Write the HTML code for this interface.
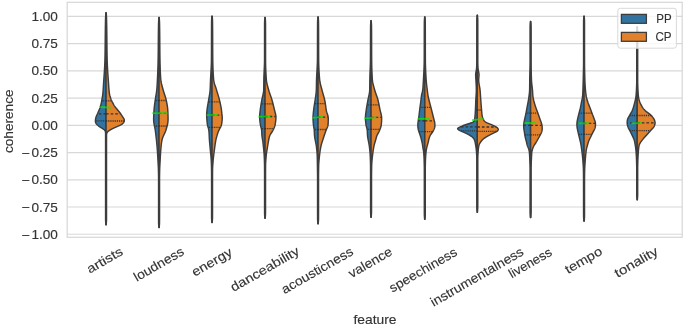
<!DOCTYPE html>
<html><head><meta charset="utf-8"><style>
html,body{margin:0;padding:0;background:#fff;width:685px;height:328px;overflow:hidden;}
svg{display:block;font-family:"Liberation Sans",sans-serif;-webkit-font-smoothing:antialiased;}
svg{will-change:transform;}
#w{}
text{fill:#333333;stroke:#333333;stroke-width:0.14px;}
</style></head><body><div id="w"><svg width="685" height="328" viewBox="0 0 685 328" font-family="Liberation Sans, sans-serif" font-size="12.8" fill="#333333"><rect x="67.2" y="2.3" width="615.0" height="235.0" fill="#fff" stroke="#d6d6d6" stroke-width="1.2"/><line x1="67.2" y1="234.25" x2="682.2" y2="234.25" stroke="#d8d8d8" stroke-width="1.2"/><line x1="67.2" y1="207.01" x2="682.2" y2="207.01" stroke="#d8d8d8" stroke-width="1.2"/><line x1="67.2" y1="179.78" x2="682.2" y2="179.78" stroke="#d8d8d8" stroke-width="1.2"/><line x1="67.2" y1="152.54" x2="682.2" y2="152.54" stroke="#d8d8d8" stroke-width="1.2"/><line x1="67.2" y1="125.30" x2="682.2" y2="125.30" stroke="#d8d8d8" stroke-width="1.2"/><line x1="67.2" y1="98.06" x2="682.2" y2="98.06" stroke="#d8d8d8" stroke-width="1.2"/><line x1="67.2" y1="70.82" x2="682.2" y2="70.82" stroke="#d8d8d8" stroke-width="1.2"/><line x1="67.2" y1="43.59" x2="682.2" y2="43.59" stroke="#d8d8d8" stroke-width="1.2"/><line x1="67.2" y1="16.35" x2="682.2" y2="16.35" stroke="#d8d8d8" stroke-width="1.2"/><path d="M106.05,12.8 L105.87,12.8 L105.85,13.3 L105.82,13.8 L105.79,14.3 L105.75,14.8 L105.72,15.3 L105.68,15.8 L105.65,16.3 L105.63,16.8 L105.6,17.3 L105.58,17.8 L105.56,18.3 L105.55,18.8 L105.53,19.3 L105.52,19.8 L105.51,20.3 L105.49,20.8 L105.48,21.3 L105.47,21.8 L105.46,22.3 L105.45,22.8 L105.44,23.3 L105.43,23.8 L105.42,24.3 L105.41,24.8 L105.4,25.3 L105.39,25.8 L105.38,26.3 L105.37,26.8 L105.36,27.3 L105.36,27.8 L105.35,28.3 L105.34,28.8 L105.33,29.3 L105.33,29.8 L105.32,30.3 L105.31,30.8 L105.31,31.3 L105.3,31.8 L105.3,32.3 L105.29,32.8 L105.28,33.3 L105.28,33.8 L105.27,34.3 L105.27,34.8 L105.26,35.3 L105.26,35.8 L105.25,36.3 L105.25,36.8 L105.24,37.3 L105.24,37.8 L105.23,38.3 L105.23,38.8 L105.23,39.3 L105.22,39.8 L105.22,40.3 L105.21,40.8 L105.21,41.3 L105.2,41.8 L105.2,42.3 L105.19,42.8 L105.19,43.3 L105.18,43.8 L105.18,44.3 L105.17,44.8 L105.17,45.3 L105.16,45.8 L105.16,46.3 L105.15,46.8 L105.15,47.3 L105.14,47.8 L105.13,48.3 L105.13,48.8 L105.12,49.3 L105.12,49.8 L105.11,50.3 L105.1,50.8 L105.09,51.3 L105.09,51.8 L105.08,52.3 L105.07,52.8 L105.06,53.3 L105.06,53.8 L105.05,54.3 L105.04,54.8 L105.03,55.3 L105.02,55.8 L105.01,56.3 L105,56.8 L104.99,57.3 L104.98,57.8 L104.97,58.3 L104.95,58.8 L104.94,59.3 L104.93,59.8 L104.92,60.3 L104.9,60.8 L104.89,61.3 L104.87,61.8 L104.85,62.3 L104.83,62.8 L104.81,63.3 L104.79,63.8 L104.77,64.3 L104.75,64.8 L104.72,65.3 L104.7,65.8 L104.68,66.3 L104.65,66.8 L104.62,67.3 L104.59,67.8 L104.57,68.3 L104.54,68.8 L104.51,69.3 L104.48,69.8 L104.45,70.3 L104.42,70.8 L104.39,71.3 L104.35,71.8 L104.32,72.3 L104.29,72.8 L104.25,73.3 L104.22,73.8 L104.19,74.3 L104.15,74.8 L104.12,75.3 L104.08,75.8 L104.05,76.3 L104.02,76.8 L103.98,77.3 L103.95,77.8 L103.91,78.3 L103.88,78.8 L103.84,79.3 L103.81,79.8 L103.77,80.3 L103.74,80.8 L103.7,81.3 L103.67,81.8 L103.64,82.3 L103.6,82.8 L103.57,83.3 L103.54,83.8 L103.51,84.3 L103.48,84.8 L103.45,85.3 L103.41,85.8 L103.39,86.3 L103.36,86.8 L103.33,87.3 L103.3,87.8 L103.26,88.3 L103.23,88.8 L103.2,89.3 L103.17,89.8 L103.13,90.3 L103.1,90.8 L103.06,91.3 L103.02,91.8 L102.98,92.3 L102.93,92.8 L102.89,93.3 L102.83,93.8 L102.78,94.3 L102.71,94.8 L102.64,95.3 L102.57,95.8 L102.49,96.3 L102.4,96.8 L102.32,97.3 L102.23,97.8 L102.14,98.3 L102.06,98.8 L101.97,99.3 L101.88,99.8 L101.8,100.3 L101.71,100.8 L101.61,101.3 L101.52,101.8 L101.42,102.3 L101.32,102.8 L101.21,103.3 L101.1,103.8 L100.99,104.3 L100.87,104.8 L100.74,105.3 L100.61,105.8 L100.47,106.3 L100.32,106.8 L100.17,107.3 L100,107.8 L99.81,108.3 L99.62,108.8 L99.41,109.3 L99.2,109.8 L98.99,110.3 L98.77,110.8 L98.56,111.3 L98.35,111.8 L98.14,112.3 L97.92,112.8 L97.71,113.3 L97.48,113.8 L97.25,114.3 L97.01,114.8 L96.77,115.3 L96.54,115.8 L96.33,116.3 L96.14,116.8 L95.98,117.3 L95.84,117.8 L95.72,118.3 L95.61,118.8 L95.52,119.3 L95.46,119.8 L95.41,120.3 L95.4,120.8 L95.41,121.3 L95.47,121.8 L95.57,122.3 L95.73,122.8 L95.97,123.3 L96.29,123.8 L96.7,124.3 L97.19,124.8 L97.75,125.3 L98.38,125.8 L99.07,126.3 L99.81,126.8 L100.59,127.3 L101.41,127.8 L102.23,128.3 L103.01,128.8 L103.71,129.3 L104.29,129.8 L104.75,130.3 L105.08,130.8 L105.31,131.3 L105.44,131.8 L105.52,132.3 L105.55,132.8 L105.57,133.3 L105.57,133.8 L105.57,134.3 L105.57,134.8 L105.57,135.3 L105.58,135.8 L105.58,136.3 L105.58,136.8 L105.58,137.3 L105.58,137.8 L105.58,138.3 L105.58,138.8 L105.58,139.3 L105.58,139.8 L105.58,140.3 L105.58,140.8 L105.58,141.3 L105.58,141.8 L105.58,142.3 L105.58,142.8 L105.58,143.3 L105.58,143.8 L105.58,144.3 L105.58,144.8 L105.58,145.3 L105.58,145.8 L105.58,146.3 L105.58,146.8 L105.58,147.3 L105.58,147.8 L105.58,148.3 L105.58,148.8 L105.58,149.3 L105.58,149.8 L105.58,150.3 L105.58,150.8 L105.58,151.3 L105.58,151.8 L105.58,152.3 L105.58,152.8 L105.58,153.3 L105.58,153.8 L105.58,154.3 L105.58,154.8 L105.58,155.3 L105.58,155.8 L105.58,156.3 L105.58,156.8 L105.58,157.3 L105.58,157.8 L105.58,158.3 L105.58,158.8 L105.58,159.3 L105.58,159.8 L105.58,160.3 L105.58,160.8 L105.58,161.3 L105.58,161.8 L105.58,162.3 L105.58,162.8 L105.58,163.3 L105.58,163.8 L105.58,164.3 L105.58,164.8 L105.58,165.3 L105.58,165.8 L105.58,166.3 L105.58,166.8 L105.58,167.3 L105.58,167.8 L105.58,168.3 L105.58,168.8 L105.58,169.3 L105.58,169.8 L105.58,170.3 L105.58,170.8 L105.58,171.3 L105.58,171.8 L105.58,172.3 L105.58,172.8 L105.58,173.3 L105.58,173.8 L105.58,174.3 L105.58,174.8 L105.58,175.3 L105.58,175.8 L105.58,176.3 L105.58,176.8 L105.58,177.3 L105.58,177.8 L105.58,178.3 L105.58,178.8 L105.58,179.3 L105.58,179.8 L105.58,180.3 L105.58,180.8 L105.58,181.3 L105.58,181.8 L105.58,182.3 L105.58,182.8 L105.58,183.3 L105.58,183.8 L105.58,184.3 L105.58,184.8 L105.58,185.3 L105.58,185.8 L105.58,186.3 L105.58,186.8 L105.58,187.3 L105.58,187.8 L105.58,188.3 L105.58,188.8 L105.58,189.3 L105.58,189.8 L105.58,190.3 L105.58,190.8 L105.58,191.3 L105.58,191.8 L105.58,192.3 L105.58,192.8 L105.58,193.3 L105.58,193.8 L105.58,194.3 L105.58,194.8 L105.58,195.3 L105.58,195.8 L105.58,196.3 L105.58,196.8 L105.58,197.3 L105.58,197.8 L105.58,198.3 L105.58,198.8 L105.58,199.3 L105.58,199.8 L105.58,200.3 L105.58,200.8 L105.58,201.3 L105.58,201.8 L105.58,202.3 L105.58,202.8 L105.58,203.3 L105.58,203.8 L105.58,204.3 L105.58,204.8 L105.58,205.3 L105.58,205.8 L105.58,206.3 L105.58,206.8 L105.58,207.3 L105.58,207.8 L105.58,208.3 L105.58,208.8 L105.58,209.3 L105.58,209.8 L105.58,210.3 L105.58,210.8 L105.58,211.3 L105.58,211.8 L105.58,212.3 L105.58,212.8 L105.58,213.3 L105.58,213.8 L105.58,214.3 L105.58,214.8 L105.58,215.3 L105.58,215.8 L105.58,216.3 L105.58,216.8 L105.58,217.3 L105.58,217.8 L105.58,218.3 L105.58,218.8 L105.58,219.3 L105.59,219.8 L105.6,220.3 L105.62,220.8 L105.64,221.3 L105.67,221.8 L105.71,222.3 L105.75,222.8 L105.78,223.3 L105.82,223.8 L105.85,224.3 L105.87,224.7 L106.05,224.7Z" fill="#3274a1" stroke="#3d3d3d" stroke-width="1.45" stroke-linejoin="round"/><path d="M106.05,12.8 L106.23,12.8 L106.25,13.3 L106.28,13.8 L106.31,14.3 L106.35,14.8 L106.38,15.3 L106.42,15.8 L106.45,16.3 L106.47,16.8 L106.5,17.3 L106.52,17.8 L106.54,18.3 L106.55,18.8 L106.57,19.3 L106.58,19.8 L106.59,20.3 L106.61,20.8 L106.62,21.3 L106.63,21.8 L106.64,22.3 L106.65,22.8 L106.66,23.3 L106.67,23.8 L106.68,24.3 L106.69,24.8 L106.7,25.3 L106.71,25.8 L106.72,26.3 L106.73,26.8 L106.74,27.3 L106.74,27.8 L106.75,28.3 L106.76,28.8 L106.77,29.3 L106.77,29.8 L106.78,30.3 L106.79,30.8 L106.79,31.3 L106.8,31.8 L106.8,32.3 L106.81,32.8 L106.82,33.3 L106.82,33.8 L106.83,34.3 L106.83,34.8 L106.84,35.3 L106.84,35.8 L106.85,36.3 L106.85,36.8 L106.86,37.3 L106.86,37.8 L106.87,38.3 L106.87,38.8 L106.87,39.3 L106.88,39.8 L106.88,40.3 L106.89,40.8 L106.89,41.3 L106.9,41.8 L106.9,42.3 L106.91,42.8 L106.91,43.3 L106.92,43.8 L106.92,44.3 L106.93,44.8 L106.93,45.3 L106.94,45.8 L106.94,46.3 L106.95,46.8 L106.95,47.3 L106.96,47.8 L106.97,48.3 L106.97,48.8 L106.98,49.3 L106.98,49.8 L106.99,50.3 L107,50.8 L107.01,51.3 L107.01,51.8 L107.02,52.3 L107.03,52.8 L107.04,53.3 L107.04,53.8 L107.05,54.3 L107.06,54.8 L107.07,55.3 L107.08,55.8 L107.09,56.3 L107.1,56.8 L107.11,57.3 L107.12,57.8 L107.13,58.3 L107.15,58.8 L107.16,59.3 L107.17,59.8 L107.18,60.3 L107.2,60.8 L107.21,61.3 L107.23,61.8 L107.25,62.3 L107.26,62.8 L107.28,63.3 L107.3,63.8 L107.32,64.3 L107.35,64.8 L107.37,65.3 L107.39,65.8 L107.41,66.3 L107.44,66.8 L107.46,67.3 L107.49,67.8 L107.52,68.3 L107.54,68.8 L107.57,69.3 L107.6,69.8 L107.63,70.3 L107.66,70.8 L107.69,71.3 L107.72,71.8 L107.75,72.3 L107.79,72.8 L107.82,73.3 L107.85,73.8 L107.88,74.3 L107.92,74.8 L107.95,75.3 L107.99,75.8 L108.02,76.3 L108.05,76.8 L108.09,77.3 L108.13,77.8 L108.16,78.3 L108.2,78.8 L108.23,79.3 L108.27,79.8 L108.31,80.3 L108.34,80.8 L108.38,81.3 L108.41,81.8 L108.45,82.3 L108.49,82.8 L108.52,83.3 L108.56,83.8 L108.6,84.3 L108.63,84.8 L108.67,85.3 L108.7,85.8 L108.74,86.3 L108.77,86.8 L108.81,87.3 L108.84,87.8 L108.88,88.3 L108.92,88.8 L108.96,89.3 L109,89.8 L109.05,90.3 L109.1,90.8 L109.15,91.3 L109.2,91.8 L109.26,92.3 L109.32,92.8 L109.39,93.3 L109.47,93.8 L109.56,94.3 L109.67,94.8 L109.79,95.3 L109.92,95.8 L110.07,96.3 L110.22,96.8 L110.37,97.3 L110.52,97.8 L110.68,98.3 L110.86,98.8 L111.04,99.3 L111.24,99.8 L111.46,100.3 L111.7,100.8 L111.95,101.3 L112.22,101.8 L112.49,102.3 L112.75,102.8 L113.02,103.3 L113.27,103.8 L113.53,104.3 L113.8,104.8 L114.09,105.3 L114.4,105.8 L114.73,106.3 L115.08,106.8 L115.46,107.3 L115.84,107.8 L116.24,108.3 L116.65,108.8 L117.06,109.3 L117.47,109.8 L117.89,110.3 L118.31,110.8 L118.72,111.3 L119.12,111.8 L119.51,112.3 L119.9,112.8 L120.28,113.3 L120.65,113.8 L121.01,114.3 L121.37,114.8 L121.71,115.3 L122.05,115.8 L122.38,116.3 L122.7,116.8 L123.03,117.3 L123.34,117.8 L123.64,118.3 L123.91,118.8 L124.12,119.3 L124.26,119.8 L124.32,120.3 L124.3,120.8 L124.21,121.3 L124.05,121.8 L123.81,122.3 L123.46,122.8 L123,123.3 L122.4,123.8 L121.68,124.3 L120.82,124.8 L119.84,125.3 L118.77,125.8 L117.64,126.3 L116.48,126.8 L115.33,127.3 L114.21,127.8 L113.15,128.3 L112.14,128.8 L111.2,129.3 L110.33,129.8 L109.53,130.3 L108.82,130.8 L108.2,131.3 L107.68,131.8 L107.26,132.3 L106.96,132.8 L106.76,133.3 L106.64,133.8 L106.58,134.3 L106.55,134.8 L106.54,135.3 L106.53,135.8 L106.53,136.3 L106.53,136.8 L106.53,137.3 L106.53,137.8 L106.53,138.3 L106.53,138.8 L106.53,139.3 L106.53,139.8 L106.52,140.3 L106.52,140.8 L106.52,141.3 L106.52,141.8 L106.52,142.3 L106.52,142.8 L106.52,143.3 L106.52,143.8 L106.52,144.3 L106.52,144.8 L106.52,145.3 L106.52,145.8 L106.52,146.3 L106.52,146.8 L106.52,147.3 L106.52,147.8 L106.52,148.3 L106.52,148.8 L106.52,149.3 L106.52,149.8 L106.52,150.3 L106.52,150.8 L106.52,151.3 L106.52,151.8 L106.52,152.3 L106.52,152.8 L106.52,153.3 L106.52,153.8 L106.52,154.3 L106.52,154.8 L106.52,155.3 L106.52,155.8 L106.52,156.3 L106.52,156.8 L106.52,157.3 L106.52,157.8 L106.52,158.3 L106.52,158.8 L106.52,159.3 L106.52,159.8 L106.52,160.3 L106.52,160.8 L106.52,161.3 L106.52,161.8 L106.52,162.3 L106.52,162.8 L106.52,163.3 L106.52,163.8 L106.52,164.3 L106.52,164.8 L106.52,165.3 L106.52,165.8 L106.52,166.3 L106.52,166.8 L106.52,167.3 L106.52,167.8 L106.52,168.3 L106.52,168.8 L106.52,169.3 L106.52,169.8 L106.52,170.3 L106.52,170.8 L106.52,171.3 L106.52,171.8 L106.52,172.3 L106.52,172.8 L106.52,173.3 L106.52,173.8 L106.52,174.3 L106.52,174.8 L106.52,175.3 L106.52,175.8 L106.52,176.3 L106.52,176.8 L106.52,177.3 L106.52,177.8 L106.52,178.3 L106.52,178.8 L106.52,179.3 L106.52,179.8 L106.52,180.3 L106.52,180.8 L106.52,181.3 L106.52,181.8 L106.52,182.3 L106.52,182.8 L106.52,183.3 L106.52,183.8 L106.52,184.3 L106.52,184.8 L106.52,185.3 L106.52,185.8 L106.52,186.3 L106.52,186.8 L106.52,187.3 L106.52,187.8 L106.52,188.3 L106.52,188.8 L106.52,189.3 L106.52,189.8 L106.52,190.3 L106.52,190.8 L106.52,191.3 L106.52,191.8 L106.52,192.3 L106.52,192.8 L106.52,193.3 L106.52,193.8 L106.52,194.3 L106.52,194.8 L106.52,195.3 L106.52,195.8 L106.52,196.3 L106.52,196.8 L106.52,197.3 L106.52,197.8 L106.52,198.3 L106.52,198.8 L106.52,199.3 L106.52,199.8 L106.52,200.3 L106.52,200.8 L106.52,201.3 L106.52,201.8 L106.52,202.3 L106.52,202.8 L106.52,203.3 L106.52,203.8 L106.52,204.3 L106.52,204.8 L106.52,205.3 L106.52,205.8 L106.52,206.3 L106.52,206.8 L106.52,207.3 L106.52,207.8 L106.52,208.3 L106.52,208.8 L106.52,209.3 L106.52,209.8 L106.52,210.3 L106.52,210.8 L106.52,211.3 L106.52,211.8 L106.52,212.3 L106.52,212.8 L106.52,213.3 L106.52,213.8 L106.52,214.3 L106.52,214.8 L106.52,215.3 L106.52,215.8 L106.52,216.3 L106.52,216.8 L106.52,217.3 L106.52,217.8 L106.52,218.3 L106.52,218.8 L106.52,219.3 L106.51,219.8 L106.5,220.3 L106.48,220.8 L106.46,221.3 L106.43,221.8 L106.39,222.3 L106.35,222.8 L106.32,223.3 L106.28,223.8 L106.25,224.3 L106.23,224.7 L106.05,224.7Z" fill="#e1812c" stroke="#3d3d3d" stroke-width="1.45" stroke-linejoin="round"/><line x1="106.05" y1="100.90" x2="102.06" y2="100.90" stroke="#333" stroke-width="1.3" stroke-dasharray="1.2 0.95"/><line x1="106.05" y1="113.80" x2="97.87" y2="113.80" stroke="#333" stroke-width="1.3" stroke-dasharray="2.6 2.0"/><line x1="106.05" y1="120.80" x2="95.69" y2="120.80" stroke="#333" stroke-width="1.3" stroke-dasharray="1.2 0.95"/><line x1="106.05" y1="100.90" x2="111.35" y2="100.90" stroke="#333" stroke-width="1.3" stroke-dasharray="1.2 0.95"/><line x1="106.05" y1="113.80" x2="120.31" y2="113.80" stroke="#333" stroke-width="1.3" stroke-dasharray="2.6 2.0"/><line x1="106.05" y1="121.00" x2="124.02" y2="121.00" stroke="#333" stroke-width="1.3" stroke-dasharray="1.2 0.95"/><line x1="100.4" y1="107.0" x2="111.0" y2="107.6" stroke="#00f000" stroke-width="1.8" stroke-opacity="0.72"/><path d="M159.05,17.5 L158.87,17.5 L158.85,18 L158.82,18.5 L158.78,19 L158.75,19.5 L158.71,20 L158.68,20.5 L158.65,21 L158.62,21.5 L158.6,22 L158.58,22.5 L158.57,23 L158.55,23.5 L158.54,24 L158.53,24.5 L158.52,25 L158.51,25.5 L158.5,26 L158.49,26.5 L158.48,27 L158.47,27.5 L158.46,28 L158.46,28.5 L158.45,29 L158.44,29.5 L158.43,30 L158.43,30.5 L158.42,31 L158.41,31.5 L158.41,32 L158.4,32.5 L158.4,33 L158.39,33.5 L158.38,34 L158.38,34.5 L158.37,35 L158.37,35.5 L158.37,36 L158.36,36.5 L158.36,37 L158.35,37.5 L158.35,38 L158.34,38.5 L158.34,39 L158.34,39.5 L158.33,40 L158.33,40.5 L158.33,41 L158.32,41.5 L158.32,42 L158.32,42.5 L158.31,43 L158.31,43.5 L158.3,44 L158.3,44.5 L158.3,45 L158.29,45.5 L158.29,46 L158.29,46.5 L158.28,47 L158.28,47.5 L158.27,48 L158.27,48.5 L158.27,49 L158.26,49.5 L158.26,50 L158.25,50.5 L158.25,51 L158.24,51.5 L158.24,52 L158.23,52.5 L158.23,53 L158.22,53.5 L158.22,54 L158.21,54.5 L158.2,55 L158.2,55.5 L158.19,56 L158.18,56.5 L158.18,57 L158.17,57.5 L158.16,58 L158.15,58.5 L158.14,59 L158.13,59.5 L158.12,60 L158.11,60.5 L158.1,61 L158.09,61.5 L158.08,62 L158.07,62.5 L158.06,63 L158.04,63.5 L158.03,64 L158.02,64.5 L158,65 L157.99,65.5 L157.97,66 L157.96,66.5 L157.94,67 L157.92,67.5 L157.9,68 L157.89,68.5 L157.87,69 L157.85,69.5 L157.83,70 L157.81,70.5 L157.79,71 L157.77,71.5 L157.75,72 L157.73,72.5 L157.71,73 L157.69,73.5 L157.67,74 L157.65,74.5 L157.63,75 L157.61,75.5 L157.58,76 L157.56,76.5 L157.54,77 L157.52,77.5 L157.49,78 L157.47,78.5 L157.45,79 L157.42,79.5 L157.4,80 L157.38,80.5 L157.35,81 L157.33,81.5 L157.3,82 L157.28,82.5 L157.25,83 L157.22,83.5 L157.19,84 L157.17,84.5 L157.14,85 L157.1,85.5 L157.07,86 L157.04,86.5 L157,87 L156.97,87.5 L156.93,88 L156.89,88.5 L156.84,89 L156.8,89.5 L156.75,90 L156.69,90.5 L156.63,91 L156.57,91.5 L156.5,92 L156.43,92.5 L156.35,93 L156.27,93.5 L156.19,94 L156.11,94.5 L156.03,95 L155.94,95.5 L155.86,96 L155.77,96.5 L155.69,97 L155.61,97.5 L155.53,98 L155.45,98.5 L155.37,99 L155.3,99.5 L155.23,100 L155.16,100.5 L155.09,101 L155.02,101.5 L154.95,102 L154.88,102.5 L154.81,103 L154.74,103.5 L154.67,104 L154.6,104.5 L154.54,105 L154.47,105.5 L154.41,106 L154.35,106.5 L154.3,107 L154.24,107.5 L154.19,108 L154.15,108.5 L154.1,109 L154.07,109.5 L154.03,110 L154,110.5 L153.97,111 L153.94,111.5 L153.91,112 L153.88,112.5 L153.85,113 L153.83,113.5 L153.8,114 L153.78,114.5 L153.75,115 L153.73,115.5 L153.71,116 L153.69,116.5 L153.68,117 L153.66,117.5 L153.65,118 L153.64,118.5 L153.64,119 L153.64,119.5 L153.64,120 L153.66,120.5 L153.68,121 L153.72,121.5 L153.77,122 L153.83,122.5 L153.9,123 L153.98,123.5 L154.07,124 L154.16,124.5 L154.26,125 L154.36,125.5 L154.47,126 L154.57,126.5 L154.67,127 L154.78,127.5 L154.87,128 L154.97,128.5 L155.06,129 L155.14,129.5 L155.22,130 L155.29,130.5 L155.36,131 L155.42,131.5 L155.49,132 L155.56,132.5 L155.62,133 L155.68,133.5 L155.74,134 L155.81,134.5 L155.87,135 L155.93,135.5 L155.98,136 L156.04,136.5 L156.1,137 L156.16,137.5 L156.21,138 L156.27,138.5 L156.32,139 L156.37,139.5 L156.42,140 L156.48,140.5 L156.53,141 L156.58,141.5 L156.63,142 L156.68,142.5 L156.72,143 L156.77,143.5 L156.82,144 L156.87,144.5 L156.91,145 L156.96,145.5 L157,146 L157.05,146.5 L157.09,147 L157.13,147.5 L157.17,148 L157.21,148.5 L157.25,149 L157.29,149.5 L157.32,150 L157.36,150.5 L157.39,151 L157.43,151.5 L157.46,152 L157.49,152.5 L157.52,153 L157.56,153.5 L157.59,154 L157.62,154.5 L157.65,155 L157.68,155.5 L157.7,156 L157.73,156.5 L157.76,157 L157.79,157.5 L157.82,158 L157.84,158.5 L157.87,159 L157.9,159.5 L157.93,160 L157.95,160.5 L157.98,161 L158.01,161.5 L158.04,162 L158.07,162.5 L158.1,163 L158.13,163.5 L158.16,164 L158.18,164.5 L158.21,165 L158.24,165.5 L158.27,166 L158.29,166.5 L158.31,167 L158.34,167.5 L158.36,168 L158.38,168.5 L158.39,169 L158.41,169.5 L158.42,170 L158.44,170.5 L158.45,171 L158.46,171.5 L158.47,172 L158.48,172.5 L158.49,173 L158.5,173.5 L158.51,174 L158.52,174.5 L158.53,175 L158.54,175.5 L158.54,176 L158.55,176.5 L158.56,177 L158.56,177.5 L158.57,178 L158.57,178.5 L158.57,179 L158.57,179.5 L158.57,180 L158.57,180.5 L158.57,181 L158.57,181.5 L158.57,182 L158.57,182.5 L158.57,183 L158.57,183.5 L158.58,184 L158.58,184.5 L158.58,185 L158.58,185.5 L158.58,186 L158.58,186.5 L158.58,187 L158.58,187.5 L158.58,188 L158.58,188.5 L158.58,189 L158.58,189.5 L158.58,190 L158.58,190.5 L158.58,191 L158.58,191.5 L158.58,192 L158.58,192.5 L158.58,193 L158.58,193.5 L158.58,194 L158.58,194.5 L158.58,195 L158.58,195.5 L158.58,196 L158.58,196.5 L158.58,197 L158.58,197.5 L158.58,198 L158.58,198.5 L158.58,199 L158.58,199.5 L158.58,200 L158.58,200.5 L158.58,201 L158.58,201.5 L158.58,202 L158.58,202.5 L158.58,203 L158.58,203.5 L158.58,204 L158.58,204.5 L158.58,205 L158.58,205.5 L158.58,206 L158.58,206.5 L158.58,207 L158.58,207.5 L158.58,208 L158.58,208.5 L158.58,209 L158.58,209.5 L158.58,210 L158.58,210.5 L158.58,211 L158.58,211.5 L158.58,212 L158.58,212.5 L158.58,213 L158.58,213.5 L158.58,214 L158.58,214.5 L158.58,215 L158.58,215.5 L158.58,216 L158.58,216.5 L158.58,217 L158.58,217.5 L158.58,218 L158.58,218.5 L158.58,219 L158.58,219.5 L158.58,220 L158.58,220.5 L158.58,221 L158.58,221.5 L158.58,222 L158.59,222.5 L158.6,223 L158.61,223.5 L158.64,224 L158.67,224.5 L158.7,225 L158.74,225.5 L158.78,226 L158.81,226.5 L158.84,227 L158.87,227.5 L159.05,227.5Z" fill="#3274a1" stroke="#3d3d3d" stroke-width="1.45" stroke-linejoin="round"/><path d="M159.05,17.5 L159.23,17.5 L159.25,18 L159.28,18.5 L159.32,19 L159.35,19.5 L159.39,20 L159.42,20.5 L159.45,21 L159.48,21.5 L159.5,22 L159.52,22.5 L159.53,23 L159.55,23.5 L159.56,24 L159.57,24.5 L159.58,25 L159.59,25.5 L159.6,26 L159.61,26.5 L159.62,27 L159.63,27.5 L159.64,28 L159.64,28.5 L159.65,29 L159.66,29.5 L159.67,30 L159.67,30.5 L159.68,31 L159.69,31.5 L159.69,32 L159.7,32.5 L159.7,33 L159.71,33.5 L159.71,34 L159.72,34.5 L159.72,35 L159.73,35.5 L159.73,36 L159.74,36.5 L159.74,37 L159.74,37.5 L159.75,38 L159.75,38.5 L159.76,39 L159.76,39.5 L159.76,40 L159.77,40.5 L159.77,41 L159.77,41.5 L159.78,42 L159.78,42.5 L159.78,43 L159.79,43.5 L159.79,44 L159.8,44.5 L159.8,45 L159.8,45.5 L159.81,46 L159.81,46.5 L159.81,47 L159.82,47.5 L159.82,48 L159.83,48.5 L159.83,49 L159.83,49.5 L159.84,50 L159.84,50.5 L159.85,51 L159.85,51.5 L159.86,52 L159.86,52.5 L159.87,53 L159.87,53.5 L159.88,54 L159.89,54.5 L159.89,55 L159.9,55.5 L159.91,56 L159.92,56.5 L159.92,57 L159.93,57.5 L159.94,58 L159.95,58.5 L159.96,59 L159.97,59.5 L159.98,60 L159.99,60.5 L160,61 L160.01,61.5 L160.02,62 L160.03,62.5 L160.04,63 L160.05,63.5 L160.06,64 L160.08,64.5 L160.09,65 L160.1,65.5 L160.12,66 L160.13,66.5 L160.15,67 L160.16,67.5 L160.18,68 L160.2,68.5 L160.21,69 L160.23,69.5 L160.25,70 L160.27,70.5 L160.29,71 L160.31,71.5 L160.33,72 L160.36,72.5 L160.38,73 L160.41,73.5 L160.43,74 L160.46,74.5 L160.48,75 L160.51,75.5 L160.54,76 L160.57,76.5 L160.6,77 L160.64,77.5 L160.67,78 L160.71,78.5 L160.75,79 L160.79,79.5 L160.84,80 L160.9,80.5 L160.97,81 L161.04,81.5 L161.13,82 L161.23,82.5 L161.33,83 L161.45,83.5 L161.56,84 L161.69,84.5 L161.82,85 L161.95,85.5 L162.08,86 L162.22,86.5 L162.35,87 L162.49,87.5 L162.63,88 L162.76,88.5 L162.9,89 L163.03,89.5 L163.17,90 L163.32,90.5 L163.46,91 L163.61,91.5 L163.77,92 L163.93,92.5 L164.09,93 L164.26,93.5 L164.42,94 L164.59,94.5 L164.75,95 L164.91,95.5 L165.07,96 L165.23,96.5 L165.38,97 L165.53,97.5 L165.67,98 L165.8,98.5 L165.93,99 L166.05,99.5 L166.17,100 L166.28,100.5 L166.38,101 L166.49,101.5 L166.59,102 L166.69,102.5 L166.79,103 L166.89,103.5 L166.98,104 L167.08,104.5 L167.16,105 L167.25,105.5 L167.33,106 L167.4,106.5 L167.47,107 L167.54,107.5 L167.6,108 L167.65,108.5 L167.69,109 L167.73,109.5 L167.77,110 L167.8,110.5 L167.82,111 L167.85,111.5 L167.87,112 L167.89,112.5 L167.91,113 L167.93,113.5 L167.95,114 L167.97,114.5 L167.99,115 L168,115.5 L168.02,116 L168.03,116.5 L168.04,117 L168.05,117.5 L168.06,118 L168.06,118.5 L168.07,119 L168.06,119.5 L168.06,120 L168.04,120.5 L168.01,121 L167.97,121.5 L167.92,122 L167.85,122.5 L167.77,123 L167.68,123.5 L167.58,124 L167.47,124.5 L167.36,125 L167.23,125.5 L167.1,126 L166.97,126.5 L166.83,127 L166.69,127.5 L166.54,128 L166.4,128.5 L166.26,129 L166.11,129.5 L165.96,130 L165.8,130.5 L165.62,131 L165.44,131.5 L165.24,132 L165.03,132.5 L164.81,133 L164.58,133.5 L164.34,134 L164.1,134.5 L163.87,135 L163.63,135.5 L163.4,136 L163.18,136.5 L162.96,137 L162.76,137.5 L162.57,138 L162.4,138.5 L162.25,139 L162.12,139.5 L162,140 L161.9,140.5 L161.81,141 L161.73,141.5 L161.65,142 L161.57,142.5 L161.5,143 L161.43,143.5 L161.37,144 L161.31,144.5 L161.25,145 L161.19,145.5 L161.14,146 L161.09,146.5 L161.04,147 L160.99,147.5 L160.95,148 L160.9,148.5 L160.86,149 L160.82,149.5 L160.78,150 L160.74,150.5 L160.7,151 L160.67,151.5 L160.63,152 L160.6,152.5 L160.56,153 L160.53,153.5 L160.5,154 L160.47,154.5 L160.44,155 L160.42,155.5 L160.39,156 L160.36,156.5 L160.33,157 L160.31,157.5 L160.28,158 L160.25,158.5 L160.23,159 L160.2,159.5 L160.17,160 L160.15,160.5 L160.12,161 L160.09,161.5 L160.06,162 L160.03,162.5 L160,163 L159.97,163.5 L159.94,164 L159.92,164.5 L159.89,165 L159.86,165.5 L159.83,166 L159.81,166.5 L159.79,167 L159.76,167.5 L159.74,168 L159.72,168.5 L159.71,169 L159.69,169.5 L159.68,170 L159.66,170.5 L159.65,171 L159.64,171.5 L159.63,172 L159.62,172.5 L159.61,173 L159.6,173.5 L159.59,174 L159.58,174.5 L159.57,175 L159.56,175.5 L159.56,176 L159.55,176.5 L159.54,177 L159.54,177.5 L159.53,178 L159.53,178.5 L159.53,179 L159.53,179.5 L159.53,180 L159.53,180.5 L159.53,181 L159.53,181.5 L159.53,182 L159.53,182.5 L159.53,183 L159.53,183.5 L159.53,184 L159.53,184.5 L159.53,185 L159.53,185.5 L159.53,186 L159.53,186.5 L159.53,187 L159.53,187.5 L159.53,188 L159.53,188.5 L159.53,189 L159.53,189.5 L159.53,190 L159.53,190.5 L159.53,191 L159.53,191.5 L159.53,192 L159.53,192.5 L159.53,193 L159.53,193.5 L159.53,194 L159.53,194.5 L159.53,195 L159.53,195.5 L159.53,196 L159.53,196.5 L159.53,197 L159.53,197.5 L159.53,198 L159.53,198.5 L159.53,199 L159.53,199.5 L159.53,200 L159.53,200.5 L159.53,201 L159.53,201.5 L159.53,202 L159.53,202.5 L159.53,203 L159.53,203.5 L159.53,204 L159.53,204.5 L159.53,205 L159.53,205.5 L159.53,206 L159.53,206.5 L159.53,207 L159.53,207.5 L159.53,208 L159.53,208.5 L159.53,209 L159.53,209.5 L159.53,210 L159.53,210.5 L159.53,211 L159.53,211.5 L159.53,212 L159.53,212.5 L159.53,213 L159.53,213.5 L159.53,214 L159.53,214.5 L159.53,215 L159.53,215.5 L159.53,216 L159.53,216.5 L159.53,217 L159.53,217.5 L159.53,218 L159.53,218.5 L159.52,219 L159.52,219.5 L159.52,220 L159.52,220.5 L159.52,221 L159.52,221.5 L159.52,222 L159.51,222.5 L159.5,223 L159.49,223.5 L159.46,224 L159.43,224.5 L159.4,225 L159.36,225.5 L159.32,226 L159.29,226.5 L159.26,227 L159.23,227.5 L159.05,227.5Z" fill="#e1812c" stroke="#3d3d3d" stroke-width="1.45" stroke-linejoin="round"/><line x1="159.05" y1="100.50" x2="155.52" y2="100.50" stroke="#333" stroke-width="1.3" stroke-dasharray="1.2 0.95"/><line x1="159.05" y1="113.40" x2="154.19" y2="113.40" stroke="#333" stroke-width="1.3" stroke-dasharray="2.6 2.0"/><line x1="159.05" y1="126.00" x2="154.83" y2="126.00" stroke="#333" stroke-width="1.3" stroke-dasharray="1.2 0.95"/><line x1="159.05" y1="100.50" x2="165.92" y2="100.50" stroke="#333" stroke-width="1.3" stroke-dasharray="1.2 0.95"/><line x1="159.05" y1="113.40" x2="167.57" y2="113.40" stroke="#333" stroke-width="1.3" stroke-dasharray="2.6 2.0"/><line x1="159.05" y1="126.00" x2="166.75" y2="126.00" stroke="#333" stroke-width="1.3" stroke-dasharray="1.2 0.95"/><line x1="152.3" y1="113.2" x2="167.5" y2="113.2" stroke="#00f000" stroke-width="1.8" stroke-opacity="0.72"/><path d="M212.05,16.1 L211.87,16.1 L211.85,16.6 L211.81,17.1 L211.78,17.6 L211.74,18.1 L211.7,18.6 L211.67,19.1 L211.64,19.6 L211.62,20.1 L211.6,20.6 L211.58,21.1 L211.57,21.6 L211.57,22.1 L211.56,22.6 L211.56,23.1 L211.55,23.6 L211.55,24.1 L211.55,24.6 L211.54,25.1 L211.54,25.6 L211.54,26.1 L211.53,26.6 L211.53,27.1 L211.53,27.6 L211.53,28.1 L211.52,28.6 L211.52,29.1 L211.52,29.6 L211.52,30.1 L211.52,30.6 L211.51,31.1 L211.51,31.6 L211.51,32.1 L211.51,32.6 L211.51,33.1 L211.51,33.6 L211.5,34.1 L211.5,34.6 L211.5,35.1 L211.5,35.6 L211.5,36.1 L211.5,36.6 L211.5,37.1 L211.5,37.6 L211.5,38.1 L211.5,38.6 L211.49,39.1 L211.49,39.6 L211.49,40.1 L211.49,40.6 L211.49,41.1 L211.49,41.6 L211.49,42.1 L211.49,42.6 L211.49,43.1 L211.49,43.6 L211.49,44.1 L211.49,44.6 L211.49,45.1 L211.48,45.6 L211.48,46.1 L211.48,46.6 L211.48,47.1 L211.48,47.6 L211.48,48.1 L211.48,48.6 L211.48,49.1 L211.48,49.6 L211.47,50.1 L211.47,50.6 L211.47,51.1 L211.47,51.6 L211.47,52.1 L211.47,52.6 L211.46,53.1 L211.46,53.6 L211.46,54.1 L211.46,54.6 L211.46,55.1 L211.45,55.6 L211.45,56.1 L211.45,56.6 L211.44,57.1 L211.44,57.6 L211.44,58.1 L211.43,58.6 L211.43,59.1 L211.43,59.6 L211.42,60.1 L211.42,60.6 L211.41,61.1 L211.4,61.6 L211.39,62.1 L211.38,62.6 L211.36,63.1 L211.35,63.6 L211.33,64.1 L211.31,64.6 L211.3,65.1 L211.28,65.6 L211.25,66.1 L211.23,66.6 L211.21,67.1 L211.18,67.6 L211.16,68.1 L211.13,68.6 L211.11,69.1 L211.08,69.6 L211.05,70.1 L211.03,70.6 L211,71.1 L210.97,71.6 L210.94,72.1 L210.91,72.6 L210.88,73.1 L210.86,73.6 L210.83,74.1 L210.8,74.6 L210.77,75.1 L210.74,75.6 L210.72,76.1 L210.69,76.6 L210.66,77.1 L210.64,77.6 L210.61,78.1 L210.59,78.6 L210.57,79.1 L210.54,79.6 L210.52,80.1 L210.5,80.6 L210.48,81.1 L210.47,81.6 L210.45,82.1 L210.43,82.6 L210.41,83.1 L210.4,83.6 L210.38,84.1 L210.36,84.6 L210.35,85.1 L210.33,85.6 L210.31,86.1 L210.29,86.6 L210.27,87.1 L210.25,87.6 L210.23,88.1 L210.2,88.6 L210.17,89.1 L210.14,89.6 L210.11,90.1 L210.07,90.6 L210.02,91.1 L209.97,91.6 L209.91,92.1 L209.85,92.6 L209.78,93.1 L209.71,93.6 L209.63,94.1 L209.55,94.6 L209.47,95.1 L209.38,95.6 L209.3,96.1 L209.21,96.6 L209.12,97.1 L209.03,97.6 L208.94,98.1 L208.86,98.6 L208.77,99.1 L208.69,99.6 L208.61,100.1 L208.53,100.6 L208.44,101.1 L208.36,101.6 L208.27,102.1 L208.19,102.6 L208.1,103.1 L208.01,103.6 L207.92,104.1 L207.83,104.6 L207.75,105.1 L207.66,105.6 L207.58,106.1 L207.49,106.6 L207.42,107.1 L207.34,107.6 L207.27,108.1 L207.2,108.6 L207.14,109.1 L207.08,109.6 L207.02,110.1 L206.96,110.6 L206.91,111.1 L206.86,111.6 L206.81,112.1 L206.76,112.6 L206.72,113.1 L206.69,113.6 L206.67,114.1 L206.65,114.6 L206.65,115.1 L206.66,115.6 L206.68,116.1 L206.7,116.6 L206.73,117.1 L206.76,117.6 L206.79,118.1 L206.83,118.6 L206.86,119.1 L206.89,119.6 L206.93,120.1 L206.97,120.6 L207.01,121.1 L207.05,121.6 L207.1,122.1 L207.15,122.6 L207.2,123.1 L207.26,123.6 L207.32,124.1 L207.4,124.6 L207.48,125.1 L207.59,125.6 L207.72,126.1 L207.86,126.6 L208.01,127.1 L208.17,127.6 L208.33,128.1 L208.48,128.6 L208.61,129.1 L208.71,129.6 L208.8,130.1 L208.86,130.6 L208.92,131.1 L208.96,131.6 L209,132.1 L209.04,132.6 L209.07,133.1 L209.1,133.6 L209.12,134.1 L209.15,134.6 L209.17,135.1 L209.19,135.6 L209.22,136.1 L209.24,136.6 L209.26,137.1 L209.29,137.6 L209.31,138.1 L209.34,138.6 L209.37,139.1 L209.4,139.6 L209.44,140.1 L209.47,140.6 L209.51,141.1 L209.55,141.6 L209.59,142.1 L209.64,142.6 L209.68,143.1 L209.72,143.6 L209.77,144.1 L209.82,144.6 L209.86,145.1 L209.91,145.6 L209.96,146.1 L210.01,146.6 L210.05,147.1 L210.1,147.6 L210.15,148.1 L210.2,148.6 L210.24,149.1 L210.29,149.6 L210.34,150.1 L210.38,150.6 L210.43,151.1 L210.48,151.6 L210.53,152.1 L210.58,152.6 L210.63,153.1 L210.69,153.6 L210.74,154.1 L210.79,154.6 L210.84,155.1 L210.89,155.6 L210.94,156.1 L210.98,156.6 L211.02,157.1 L211.07,157.6 L211.1,158.1 L211.14,158.6 L211.17,159.1 L211.2,159.6 L211.23,160.1 L211.25,160.6 L211.27,161.1 L211.29,161.6 L211.31,162.1 L211.33,162.6 L211.35,163.1 L211.37,163.6 L211.39,164.1 L211.41,164.6 L211.42,165.1 L211.44,165.6 L211.45,166.1 L211.46,166.6 L211.48,167.1 L211.49,167.6 L211.5,168.1 L211.51,168.6 L211.51,169.1 L211.52,169.6 L211.52,170.1 L211.53,170.6 L211.53,171.1 L211.54,171.6 L211.54,172.1 L211.55,172.6 L211.55,173.1 L211.55,173.6 L211.56,174.1 L211.56,174.6 L211.56,175.1 L211.56,175.6 L211.57,176.1 L211.57,176.6 L211.57,177.1 L211.57,177.6 L211.57,178.1 L211.57,178.6 L211.57,179.1 L211.57,179.6 L211.57,180.1 L211.57,180.6 L211.57,181.1 L211.57,181.6 L211.57,182.1 L211.57,182.6 L211.57,183.1 L211.57,183.6 L211.58,184.1 L211.58,184.6 L211.58,185.1 L211.58,185.6 L211.58,186.1 L211.58,186.6 L211.58,187.1 L211.58,187.6 L211.58,188.1 L211.58,188.6 L211.58,189.1 L211.58,189.6 L211.58,190.1 L211.58,190.6 L211.58,191.1 L211.58,191.6 L211.58,192.1 L211.58,192.6 L211.58,193.1 L211.58,193.6 L211.58,194.1 L211.58,194.6 L211.58,195.1 L211.58,195.6 L211.58,196.1 L211.58,196.6 L211.58,197.1 L211.58,197.6 L211.58,198.1 L211.58,198.6 L211.58,199.1 L211.58,199.6 L211.58,200.1 L211.58,200.6 L211.58,201.1 L211.58,201.6 L211.58,202.1 L211.58,202.6 L211.58,203.1 L211.58,203.6 L211.58,204.1 L211.58,204.6 L211.58,205.1 L211.58,205.6 L211.58,206.1 L211.58,206.6 L211.58,207.1 L211.58,207.6 L211.58,208.1 L211.58,208.6 L211.58,209.1 L211.58,209.6 L211.58,210.1 L211.58,210.6 L211.58,211.1 L211.58,211.6 L211.58,212.1 L211.58,212.6 L211.58,213.1 L211.58,213.6 L211.58,214.1 L211.58,214.6 L211.58,215.1 L211.58,215.6 L211.58,216.1 L211.58,216.6 L211.58,217.1 L211.59,217.6 L211.6,218.1 L211.62,218.6 L211.65,219.1 L211.68,219.6 L211.71,220.1 L211.75,220.6 L211.79,221.1 L211.82,221.6 L211.85,222.1 L211.88,222.4 L212.05,222.4Z" fill="#3274a1" stroke="#3d3d3d" stroke-width="1.45" stroke-linejoin="round"/><path d="M212.05,16.1 L212.23,16.1 L212.25,16.6 L212.28,17.1 L212.32,17.6 L212.36,18.1 L212.39,18.6 L212.43,19.1 L212.46,19.6 L212.48,20.1 L212.5,20.6 L212.52,21.1 L212.53,21.6 L212.54,22.1 L212.55,22.6 L212.55,23.1 L212.56,23.6 L212.56,24.1 L212.57,24.6 L212.58,25.1 L212.58,25.6 L212.59,26.1 L212.59,26.6 L212.59,27.1 L212.6,27.6 L212.6,28.1 L212.61,28.6 L212.61,29.1 L212.61,29.6 L212.62,30.1 L212.62,30.6 L212.62,31.1 L212.63,31.6 L212.63,32.1 L212.63,32.6 L212.64,33.1 L212.64,33.6 L212.64,34.1 L212.64,34.6 L212.64,35.1 L212.65,35.6 L212.65,36.1 L212.65,36.6 L212.65,37.1 L212.65,37.6 L212.66,38.1 L212.66,38.6 L212.66,39.1 L212.66,39.6 L212.66,40.1 L212.66,40.6 L212.66,41.1 L212.67,41.6 L212.67,42.1 L212.67,42.6 L212.67,43.1 L212.67,43.6 L212.67,44.1 L212.67,44.6 L212.68,45.1 L212.68,45.6 L212.68,46.1 L212.68,46.6 L212.68,47.1 L212.68,47.6 L212.69,48.1 L212.69,48.6 L212.69,49.1 L212.69,49.6 L212.7,50.1 L212.7,50.6 L212.7,51.1 L212.7,51.6 L212.71,52.1 L212.71,52.6 L212.71,53.1 L212.72,53.6 L212.72,54.1 L212.72,54.6 L212.73,55.1 L212.73,55.6 L212.73,56.1 L212.74,56.6 L212.74,57.1 L212.75,57.6 L212.75,58.1 L212.76,58.6 L212.76,59.1 L212.77,59.6 L212.78,60.1 L212.78,60.6 L212.79,61.1 L212.8,61.6 L212.81,62.1 L212.82,62.6 L212.83,63.1 L212.84,63.6 L212.85,64.1 L212.86,64.6 L212.87,65.1 L212.89,65.6 L212.9,66.1 L212.92,66.6 L212.93,67.1 L212.95,67.6 L212.97,68.1 L212.99,68.6 L213.01,69.1 L213.03,69.6 L213.05,70.1 L213.07,70.6 L213.1,71.1 L213.12,71.6 L213.14,72.1 L213.17,72.6 L213.2,73.1 L213.23,73.6 L213.25,74.1 L213.28,74.6 L213.32,75.1 L213.35,75.6 L213.38,76.1 L213.42,76.6 L213.45,77.1 L213.49,77.6 L213.52,78.1 L213.56,78.6 L213.61,79.1 L213.65,79.6 L213.71,80.1 L213.77,80.6 L213.85,81.1 L213.94,81.6 L214.04,82.1 L214.16,82.6 L214.29,83.1 L214.44,83.6 L214.59,84.1 L214.75,84.6 L214.91,85.1 L215.08,85.6 L215.26,86.1 L215.43,86.6 L215.61,87.1 L215.78,87.6 L215.96,88.1 L216.12,88.6 L216.29,89.1 L216.44,89.6 L216.6,90.1 L216.75,90.6 L216.9,91.1 L217.05,91.6 L217.2,92.1 L217.36,92.6 L217.51,93.1 L217.66,93.6 L217.82,94.1 L217.97,94.6 L218.12,95.1 L218.27,95.6 L218.42,96.1 L218.56,96.6 L218.71,97.1 L218.85,97.6 L218.98,98.1 L219.12,98.6 L219.25,99.1 L219.37,99.6 L219.49,100.1 L219.61,100.6 L219.73,101.1 L219.85,101.6 L219.97,102.1 L220.08,102.6 L220.19,103.1 L220.3,103.6 L220.41,104.1 L220.52,104.6 L220.63,105.1 L220.73,105.6 L220.83,106.1 L220.92,106.6 L221.01,107.1 L221.1,107.6 L221.19,108.1 L221.27,108.6 L221.34,109.1 L221.41,109.6 L221.48,110.1 L221.54,110.6 L221.59,111.1 L221.64,111.6 L221.69,112.1 L221.74,112.6 L221.78,113.1 L221.83,113.6 L221.89,114.1 L221.95,114.6 L222.01,115.1 L222.08,115.6 L222.14,116.1 L222.19,116.6 L222.23,117.1 L222.24,117.6 L222.24,118.1 L222.22,118.6 L222.2,119.1 L222.16,119.6 L222.12,120.1 L222.08,120.6 L222.03,121.1 L221.97,121.6 L221.91,122.1 L221.85,122.6 L221.77,123.1 L221.7,123.6 L221.61,124.1 L221.51,124.6 L221.38,125.1 L221.23,125.6 L221.04,126.1 L220.81,126.6 L220.56,127.1 L220.28,127.6 L220,128.1 L219.72,128.6 L219.45,129.1 L219.2,129.6 L218.97,130.1 L218.76,130.6 L218.56,131.1 L218.37,131.6 L218.19,132.1 L218,132.6 L217.83,133.1 L217.66,133.6 L217.49,134.1 L217.32,134.6 L217.16,135.1 L217.01,135.6 L216.86,136.1 L216.72,136.6 L216.58,137.1 L216.44,137.6 L216.32,138.1 L216.2,138.6 L216.08,139.1 L215.97,139.6 L215.87,140.1 L215.77,140.6 L215.67,141.1 L215.58,141.6 L215.49,142.1 L215.41,142.6 L215.33,143.1 L215.25,143.6 L215.17,144.1 L215.1,144.6 L215.03,145.1 L214.96,145.6 L214.89,146.1 L214.82,146.6 L214.76,147.1 L214.69,147.6 L214.62,148.1 L214.56,148.6 L214.49,149.1 L214.43,149.6 L214.36,150.1 L214.29,150.6 L214.23,151.1 L214.16,151.6 L214.09,152.1 L214.02,152.6 L213.96,153.1 L213.89,153.6 L213.83,154.1 L213.76,154.6 L213.7,155.1 L213.64,155.6 L213.58,156.1 L213.52,156.6 L213.46,157.1 L213.41,157.6 L213.35,158.1 L213.3,158.6 L213.26,159.1 L213.21,159.6 L213.17,160.1 L213.13,160.6 L213.09,161.1 L213.05,161.6 L213.01,162.1 L212.97,162.6 L212.93,163.1 L212.89,163.6 L212.85,164.1 L212.82,164.6 L212.78,165.1 L212.75,165.6 L212.72,166.1 L212.69,166.6 L212.67,167.1 L212.65,167.6 L212.63,168.1 L212.61,168.6 L212.6,169.1 L212.59,169.6 L212.58,170.1 L212.57,170.6 L212.57,171.1 L212.56,171.6 L212.56,172.1 L212.55,172.6 L212.55,173.1 L212.55,173.6 L212.54,174.1 L212.54,174.6 L212.54,175.1 L212.54,175.6 L212.53,176.1 L212.53,176.6 L212.53,177.1 L212.53,177.6 L212.53,178.1 L212.53,178.6 L212.53,179.1 L212.53,179.6 L212.53,180.1 L212.53,180.6 L212.53,181.1 L212.53,181.6 L212.53,182.1 L212.53,182.6 L212.53,183.1 L212.53,183.6 L212.53,184.1 L212.53,184.6 L212.53,185.1 L212.53,185.6 L212.53,186.1 L212.53,186.6 L212.53,187.1 L212.53,187.6 L212.53,188.1 L212.53,188.6 L212.53,189.1 L212.53,189.6 L212.53,190.1 L212.53,190.6 L212.53,191.1 L212.53,191.6 L212.53,192.1 L212.53,192.6 L212.53,193.1 L212.53,193.6 L212.53,194.1 L212.53,194.6 L212.53,195.1 L212.53,195.6 L212.53,196.1 L212.53,196.6 L212.53,197.1 L212.53,197.6 L212.53,198.1 L212.53,198.6 L212.53,199.1 L212.53,199.6 L212.53,200.1 L212.53,200.6 L212.53,201.1 L212.53,201.6 L212.53,202.1 L212.53,202.6 L212.53,203.1 L212.53,203.6 L212.53,204.1 L212.53,204.6 L212.53,205.1 L212.53,205.6 L212.53,206.1 L212.53,206.6 L212.53,207.1 L212.53,207.6 L212.53,208.1 L212.53,208.6 L212.53,209.1 L212.53,209.6 L212.53,210.1 L212.53,210.6 L212.53,211.1 L212.53,211.6 L212.53,212.1 L212.53,212.6 L212.53,213.1 L212.52,213.6 L212.52,214.1 L212.52,214.6 L212.52,215.1 L212.52,215.6 L212.52,216.1 L212.52,216.6 L212.52,217.1 L212.51,217.6 L212.5,218.1 L212.48,218.6 L212.45,219.1 L212.42,219.6 L212.39,220.1 L212.35,220.6 L212.31,221.1 L212.28,221.6 L212.25,222.1 L212.22,222.4 L212.05,222.4Z" fill="#e1812c" stroke="#3d3d3d" stroke-width="1.45" stroke-linejoin="round"/><line x1="212.05" y1="101.80" x2="208.69" y2="101.80" stroke="#333" stroke-width="1.3" stroke-dasharray="1.2 0.95"/><line x1="212.05" y1="115.20" x2="206.99" y2="115.20" stroke="#333" stroke-width="1.3" stroke-dasharray="2.6 2.0"/><line x1="212.05" y1="127.40" x2="208.47" y2="127.40" stroke="#333" stroke-width="1.3" stroke-dasharray="1.2 0.95"/><line x1="212.05" y1="101.80" x2="219.54" y2="101.80" stroke="#333" stroke-width="1.3" stroke-dasharray="1.2 0.95"/><line x1="212.05" y1="115.20" x2="221.64" y2="115.20" stroke="#333" stroke-width="1.3" stroke-dasharray="2.6 2.0"/><line x1="212.05" y1="127.40" x2="220.06" y2="127.40" stroke="#333" stroke-width="1.3" stroke-dasharray="1.2 0.95"/><line x1="206.5" y1="115.2" x2="218.1" y2="114.9" stroke="#00f000" stroke-width="1.8" stroke-opacity="0.72"/><path d="M265.05,17.5 L264.87,17.5 L264.84,18 L264.81,18.5 L264.78,19 L264.74,19.5 L264.7,20 L264.67,20.5 L264.64,21 L264.61,21.5 L264.6,22 L264.58,22.5 L264.58,23 L264.57,23.5 L264.57,24 L264.57,24.5 L264.57,25 L264.57,25.5 L264.56,26 L264.56,26.5 L264.56,27 L264.56,27.5 L264.56,28 L264.56,28.5 L264.56,29 L264.56,29.5 L264.56,30 L264.56,30.5 L264.56,31 L264.55,31.5 L264.55,32 L264.55,32.5 L264.55,33 L264.55,33.5 L264.55,34 L264.55,34.5 L264.55,35 L264.55,35.5 L264.55,36 L264.55,36.5 L264.55,37 L264.55,37.5 L264.55,38 L264.55,38.5 L264.55,39 L264.55,39.5 L264.55,40 L264.55,40.5 L264.55,41 L264.55,41.5 L264.55,42 L264.55,42.5 L264.55,43 L264.55,43.5 L264.55,44 L264.55,44.5 L264.55,45 L264.55,45.5 L264.54,46 L264.54,46.5 L264.54,47 L264.54,47.5 L264.54,48 L264.54,48.5 L264.54,49 L264.54,49.5 L264.54,50 L264.54,50.5 L264.54,51 L264.54,51.5 L264.54,52 L264.54,52.5 L264.54,53 L264.54,53.5 L264.54,54 L264.54,54.5 L264.54,55 L264.54,55.5 L264.53,56 L264.53,56.5 L264.53,57 L264.53,57.5 L264.53,58 L264.53,58.5 L264.53,59 L264.53,59.5 L264.52,60 L264.52,60.5 L264.51,61 L264.51,61.5 L264.5,62 L264.49,62.5 L264.48,63 L264.47,63.5 L264.45,64 L264.44,64.5 L264.42,65 L264.4,65.5 L264.38,66 L264.36,66.5 L264.34,67 L264.32,67.5 L264.3,68 L264.27,68.5 L264.25,69 L264.23,69.5 L264.2,70 L264.18,70.5 L264.16,71 L264.13,71.5 L264.11,72 L264.09,72.5 L264.06,73 L264.04,73.5 L264.02,74 L264,74.5 L263.97,75 L263.95,75.5 L263.94,76 L263.92,76.5 L263.9,77 L263.89,77.5 L263.87,78 L263.86,78.5 L263.85,79 L263.84,79.5 L263.83,80 L263.82,80.5 L263.81,81 L263.81,81.5 L263.8,82 L263.8,82.5 L263.79,83 L263.79,83.5 L263.79,84 L263.78,84.5 L263.78,85 L263.78,85.5 L263.77,86 L263.77,86.5 L263.76,87 L263.76,87.5 L263.75,88 L263.75,88.5 L263.74,89 L263.73,89.5 L263.71,90 L263.68,90.5 L263.64,91 L263.6,91.5 L263.53,92 L263.46,92.5 L263.38,93 L263.28,93.5 L263.18,94 L263.07,94.5 L262.96,95 L262.84,95.5 L262.72,96 L262.6,96.5 L262.48,97 L262.36,97.5 L262.25,98 L262.14,98.5 L262.03,99 L261.93,99.5 L261.83,100 L261.74,100.5 L261.65,101 L261.56,101.5 L261.47,102 L261.38,102.5 L261.29,103 L261.21,103.5 L261.12,104 L261.03,104.5 L260.95,105 L260.86,105.5 L260.78,106 L260.7,106.5 L260.63,107 L260.55,107.5 L260.48,108 L260.41,108.5 L260.35,109 L260.29,109.5 L260.23,110 L260.17,110.5 L260.11,111 L260.05,111.5 L260,112 L259.94,112.5 L259.89,113 L259.84,113.5 L259.79,114 L259.75,114.5 L259.71,115 L259.68,115.5 L259.66,116 L259.65,116.5 L259.64,117 L259.65,117.5 L259.66,118 L259.68,118.5 L259.71,119 L259.75,119.5 L259.79,120 L259.84,120.5 L259.89,121 L259.95,121.5 L260.01,122 L260.07,122.5 L260.14,123 L260.21,123.5 L260.28,124 L260.36,124.5 L260.45,125 L260.55,125.5 L260.66,126 L260.79,126.5 L260.92,127 L261.06,127.5 L261.19,128 L261.32,128.5 L261.42,129 L261.51,129.5 L261.59,130 L261.64,130.5 L261.68,131 L261.71,131.5 L261.74,132 L261.76,132.5 L261.78,133 L261.8,133.5 L261.82,134 L261.84,134.5 L261.87,135 L261.91,135.5 L261.95,136 L262.01,136.5 L262.08,137 L262.16,137.5 L262.25,138 L262.35,138.5 L262.44,139 L262.53,139.5 L262.61,140 L262.68,140.5 L262.75,141 L262.82,141.5 L262.88,142 L262.94,142.5 L263,143 L263.06,143.5 L263.11,144 L263.17,144.5 L263.22,145 L263.27,145.5 L263.33,146 L263.38,146.5 L263.43,147 L263.48,147.5 L263.54,148 L263.59,148.5 L263.64,149 L263.69,149.5 L263.74,150 L263.8,150.5 L263.84,151 L263.89,151.5 L263.94,152 L263.98,152.5 L264.02,153 L264.06,153.5 L264.1,154 L264.14,154.5 L264.17,155 L264.19,155.5 L264.22,156 L264.25,156.5 L264.27,157 L264.29,157.5 L264.31,158 L264.33,158.5 L264.35,159 L264.37,159.5 L264.39,160 L264.4,160.5 L264.42,161 L264.44,161.5 L264.45,162 L264.46,162.5 L264.48,163 L264.49,163.5 L264.5,164 L264.51,164.5 L264.51,165 L264.52,165.5 L264.52,166 L264.53,166.5 L264.53,167 L264.53,167.5 L264.54,168 L264.54,168.5 L264.54,169 L264.55,169.5 L264.55,170 L264.55,170.5 L264.55,171 L264.56,171.5 L264.56,172 L264.56,172.5 L264.56,173 L264.56,173.5 L264.56,174 L264.57,174.5 L264.57,175 L264.57,175.5 L264.57,176 L264.57,176.5 L264.57,177 L264.57,177.5 L264.57,178 L264.57,178.5 L264.57,179 L264.57,179.5 L264.57,180 L264.57,180.5 L264.57,181 L264.57,181.5 L264.57,182 L264.57,182.5 L264.57,183 L264.57,183.5 L264.57,184 L264.57,184.5 L264.57,185 L264.57,185.5 L264.57,186 L264.57,186.5 L264.57,187 L264.57,187.5 L264.57,188 L264.57,188.5 L264.57,189 L264.57,189.5 L264.57,190 L264.57,190.5 L264.57,191 L264.57,191.5 L264.57,192 L264.57,192.5 L264.57,193 L264.57,193.5 L264.57,194 L264.57,194.5 L264.57,195 L264.57,195.5 L264.57,196 L264.57,196.5 L264.57,197 L264.57,197.5 L264.57,198 L264.57,198.5 L264.57,199 L264.57,199.5 L264.57,200 L264.57,200.5 L264.57,201 L264.57,201.5 L264.57,202 L264.57,202.5 L264.57,203 L264.57,203.5 L264.57,204 L264.57,204.5 L264.57,205 L264.57,205.5 L264.57,206 L264.57,206.5 L264.57,207 L264.57,207.5 L264.57,208 L264.57,208.5 L264.57,209 L264.58,209.5 L264.58,210 L264.58,210.5 L264.58,211 L264.58,211.5 L264.58,212 L264.58,212.5 L264.58,213 L264.59,213.5 L264.61,214 L264.63,214.5 L264.65,215 L264.68,215.5 L264.72,216 L264.76,216.5 L264.8,217 L264.83,217.5 L264.86,218 L264.88,218.2 L265.05,218.2Z" fill="#3274a1" stroke="#3d3d3d" stroke-width="1.45" stroke-linejoin="round"/><path d="M265.05,17.5 L265.23,17.5 L265.26,18 L265.29,18.5 L265.32,19 L265.36,19.5 L265.4,20 L265.43,20.5 L265.46,21 L265.49,21.5 L265.5,22 L265.52,22.5 L265.52,23 L265.53,23.5 L265.53,24 L265.53,24.5 L265.53,25 L265.53,25.5 L265.54,26 L265.54,26.5 L265.54,27 L265.54,27.5 L265.54,28 L265.54,28.5 L265.54,29 L265.54,29.5 L265.54,30 L265.54,30.5 L265.54,31 L265.55,31.5 L265.55,32 L265.55,32.5 L265.55,33 L265.55,33.5 L265.55,34 L265.55,34.5 L265.55,35 L265.55,35.5 L265.55,36 L265.55,36.5 L265.55,37 L265.55,37.5 L265.55,38 L265.55,38.5 L265.55,39 L265.55,39.5 L265.55,40 L265.55,40.5 L265.55,41 L265.55,41.5 L265.55,42 L265.55,42.5 L265.55,43 L265.55,43.5 L265.55,44 L265.55,44.5 L265.55,45 L265.55,45.5 L265.55,46 L265.56,46.5 L265.56,47 L265.56,47.5 L265.56,48 L265.56,48.5 L265.56,49 L265.56,49.5 L265.56,50 L265.56,50.5 L265.56,51 L265.56,51.5 L265.56,52 L265.56,52.5 L265.56,53 L265.56,53.5 L265.56,54 L265.56,54.5 L265.56,55 L265.56,55.5 L265.57,56 L265.57,56.5 L265.57,57 L265.57,57.5 L265.57,58 L265.57,58.5 L265.57,59 L265.57,59.5 L265.58,60 L265.58,60.5 L265.58,61 L265.59,61.5 L265.59,62 L265.6,62.5 L265.6,63 L265.61,63.5 L265.62,64 L265.63,64.5 L265.64,65 L265.65,65.5 L265.66,66 L265.68,66.5 L265.69,67 L265.71,67.5 L265.72,68 L265.74,68.5 L265.76,69 L265.78,69.5 L265.8,70 L265.82,70.5 L265.84,71 L265.86,71.5 L265.89,72 L265.91,72.5 L265.94,73 L265.96,73.5 L265.99,74 L266.02,74.5 L266.05,75 L266.08,75.5 L266.11,76 L266.14,76.5 L266.17,77 L266.2,77.5 L266.24,78 L266.27,78.5 L266.31,79 L266.34,79.5 L266.39,80 L266.44,80.5 L266.5,81 L266.56,81.5 L266.64,82 L266.73,82.5 L266.83,83 L266.93,83.5 L267.04,84 L267.16,84.5 L267.29,85 L267.42,85.5 L267.55,86 L267.69,86.5 L267.83,87 L267.97,87.5 L268.11,88 L268.25,88.5 L268.4,89 L268.54,89.5 L268.68,90 L268.82,90.5 L268.97,91 L269.13,91.5 L269.28,92 L269.45,92.5 L269.61,93 L269.78,93.5 L269.96,94 L270.13,94.5 L270.31,95 L270.49,95.5 L270.66,96 L270.84,96.5 L271.01,97 L271.18,97.5 L271.35,98 L271.51,98.5 L271.67,99 L271.82,99.5 L271.97,100 L272.11,100.5 L272.25,101 L272.39,101.5 L272.52,102 L272.65,102.5 L272.78,103 L272.91,103.5 L273.04,104 L273.17,104.5 L273.29,105 L273.41,105.5 L273.53,106 L273.66,106.5 L273.77,107 L273.89,107.5 L274.01,108 L274.13,108.5 L274.25,109 L274.36,109.5 L274.48,110 L274.61,110.5 L274.74,111 L274.87,111.5 L275.01,112 L275.15,112.5 L275.28,113 L275.41,113.5 L275.53,114 L275.64,114.5 L275.74,115 L275.82,115.5 L275.88,116 L275.92,116.5 L275.94,117 L275.94,117.5 L275.94,118 L275.92,118.5 L275.89,119 L275.85,119.5 L275.8,120 L275.75,120.5 L275.69,121 L275.63,121.5 L275.56,122 L275.49,122.5 L275.41,123 L275.33,123.5 L275.24,124 L275.15,124.5 L275.05,125 L274.93,125.5 L274.79,126 L274.64,126.5 L274.46,127 L274.27,127.5 L274.07,128 L273.85,128.5 L273.63,129 L273.39,129.5 L273.14,130 L272.87,130.5 L272.58,131 L272.27,131.5 L271.95,132 L271.62,132.5 L271.28,133 L270.95,133.5 L270.63,134 L270.34,134.5 L270.07,135 L269.84,135.5 L269.64,136 L269.47,136.5 L269.32,137 L269.19,137.5 L269.08,138 L268.97,138.5 L268.87,139 L268.77,139.5 L268.68,140 L268.58,140.5 L268.49,141 L268.41,141.5 L268.32,142 L268.23,142.5 L268.15,143 L268.07,143.5 L267.99,144 L267.91,144.5 L267.83,145 L267.75,145.5 L267.67,146 L267.59,146.5 L267.51,147 L267.43,147.5 L267.34,148 L267.26,148.5 L267.17,149 L267.09,149.5 L267,150 L266.92,150.5 L266.84,151 L266.76,151.5 L266.68,152 L266.6,152.5 L266.53,153 L266.46,153.5 L266.4,154 L266.34,154.5 L266.28,155 L266.23,155.5 L266.18,156 L266.13,156.5 L266.09,157 L266.05,157.5 L266.01,158 L265.97,158.5 L265.93,159 L265.89,159.5 L265.85,160 L265.81,160.5 L265.78,161 L265.75,161.5 L265.72,162 L265.69,162.5 L265.67,163 L265.64,163.5 L265.63,164 L265.61,164.5 L265.6,165 L265.59,165.5 L265.58,166 L265.57,166.5 L265.57,167 L265.57,167.5 L265.56,168 L265.56,168.5 L265.56,169 L265.55,169.5 L265.55,170 L265.55,170.5 L265.55,171 L265.54,171.5 L265.54,172 L265.54,172.5 L265.54,173 L265.54,173.5 L265.53,174 L265.53,174.5 L265.53,175 L265.53,175.5 L265.53,176 L265.53,176.5 L265.53,177 L265.53,177.5 L265.53,178 L265.53,178.5 L265.53,179 L265.53,179.5 L265.53,180 L265.53,180.5 L265.53,181 L265.53,181.5 L265.53,182 L265.53,182.5 L265.53,183 L265.53,183.5 L265.53,184 L265.53,184.5 L265.53,185 L265.53,185.5 L265.53,186 L265.53,186.5 L265.53,187 L265.53,187.5 L265.53,188 L265.53,188.5 L265.53,189 L265.53,189.5 L265.53,190 L265.53,190.5 L265.53,191 L265.53,191.5 L265.53,192 L265.53,192.5 L265.53,193 L265.53,193.5 L265.53,194 L265.53,194.5 L265.53,195 L265.53,195.5 L265.53,196 L265.53,196.5 L265.53,197 L265.53,197.5 L265.53,198 L265.53,198.5 L265.53,199 L265.53,199.5 L265.53,200 L265.53,200.5 L265.53,201 L265.53,201.5 L265.53,202 L265.53,202.5 L265.53,203 L265.53,203.5 L265.53,204 L265.53,204.5 L265.53,205 L265.53,205.5 L265.53,206 L265.53,206.5 L265.53,207 L265.53,207.5 L265.53,208 L265.53,208.5 L265.53,209 L265.52,209.5 L265.52,210 L265.52,210.5 L265.52,211 L265.52,211.5 L265.52,212 L265.52,212.5 L265.52,213 L265.51,213.5 L265.49,214 L265.47,214.5 L265.45,215 L265.42,215.5 L265.38,216 L265.34,216.5 L265.3,217 L265.27,217.5 L265.24,218 L265.22,218.2 L265.05,218.2Z" fill="#e1812c" stroke="#3d3d3d" stroke-width="1.45" stroke-linejoin="round"/><line x1="265.05" y1="103.90" x2="261.50" y2="103.90" stroke="#333" stroke-width="1.3" stroke-dasharray="1.2 0.95"/><line x1="265.05" y1="116.50" x2="259.99" y2="116.50" stroke="#333" stroke-width="1.3" stroke-dasharray="2.6 2.0"/><line x1="265.05" y1="128.70" x2="261.76" y2="128.70" stroke="#333" stroke-width="1.3" stroke-dasharray="1.2 0.95"/><line x1="265.05" y1="103.90" x2="272.66" y2="103.90" stroke="#333" stroke-width="1.3" stroke-dasharray="1.2 0.95"/><line x1="265.05" y1="116.50" x2="275.60" y2="116.50" stroke="#333" stroke-width="1.3" stroke-dasharray="2.6 2.0"/><line x1="265.05" y1="128.70" x2="273.41" y2="128.70" stroke="#333" stroke-width="1.3" stroke-dasharray="1.2 0.95"/><line x1="258.5" y1="116.7" x2="270.5" y2="116.3" stroke="#00f000" stroke-width="1.8" stroke-opacity="0.72"/><path d="M318.05,17 L317.87,17 L317.85,17.5 L317.81,18 L317.78,18.5 L317.74,19 L317.7,19.5 L317.67,20 L317.64,20.5 L317.62,21 L317.6,21.5 L317.58,22 L317.57,22.5 L317.57,23 L317.56,23.5 L317.56,24 L317.55,24.5 L317.55,25 L317.55,25.5 L317.54,26 L317.54,26.5 L317.54,27 L317.53,27.5 L317.53,28 L317.53,28.5 L317.53,29 L317.52,29.5 L317.52,30 L317.52,30.5 L317.52,31 L317.51,31.5 L317.51,32 L317.51,32.5 L317.51,33 L317.51,33.5 L317.51,34 L317.5,34.5 L317.5,35 L317.5,35.5 L317.5,36 L317.5,36.5 L317.5,37 L317.5,37.5 L317.5,38 L317.5,38.5 L317.5,39 L317.49,39.5 L317.49,40 L317.49,40.5 L317.49,41 L317.49,41.5 L317.49,42 L317.49,42.5 L317.49,43 L317.49,43.5 L317.49,44 L317.49,44.5 L317.49,45 L317.48,45.5 L317.48,46 L317.48,46.5 L317.48,47 L317.48,47.5 L317.48,48 L317.48,48.5 L317.48,49 L317.48,49.5 L317.48,50 L317.47,50.5 L317.47,51 L317.47,51.5 L317.47,52 L317.47,52.5 L317.47,53 L317.46,53.5 L317.46,54 L317.46,54.5 L317.46,55 L317.45,55.5 L317.45,56 L317.45,56.5 L317.45,57 L317.44,57.5 L317.44,58 L317.44,58.5 L317.43,59 L317.43,59.5 L317.42,60 L317.42,60.5 L317.41,61 L317.4,61.5 L317.39,62 L317.37,62.5 L317.36,63 L317.34,63.5 L317.33,64 L317.31,64.5 L317.28,65 L317.26,65.5 L317.24,66 L317.21,66.5 L317.19,67 L317.16,67.5 L317.14,68 L317.11,68.5 L317.08,69 L317.05,69.5 L317.02,70 L316.99,70.5 L316.96,71 L316.93,71.5 L316.9,72 L316.87,72.5 L316.85,73 L316.82,73.5 L316.79,74 L316.76,74.5 L316.73,75 L316.71,75.5 L316.68,76 L316.66,76.5 L316.64,77 L316.61,77.5 L316.59,78 L316.58,78.5 L316.56,79 L316.54,79.5 L316.53,80 L316.51,80.5 L316.5,81 L316.49,81.5 L316.48,82 L316.47,82.5 L316.47,83 L316.46,83.5 L316.45,84 L316.44,84.5 L316.43,85 L316.43,85.5 L316.42,86 L316.41,86.5 L316.4,87 L316.39,87.5 L316.38,88 L316.37,88.5 L316.35,89 L316.34,89.5 L316.32,90 L316.29,90.5 L316.26,91 L316.23,91.5 L316.19,92 L316.14,92.5 L316.09,93 L316.04,93.5 L315.98,94 L315.92,94.5 L315.85,95 L315.78,95.5 L315.71,96 L315.64,96.5 L315.57,97 L315.49,97.5 L315.42,98 L315.34,98.5 L315.27,99 L315.2,99.5 L315.12,100 L315.05,100.5 L314.97,101 L314.89,101.5 L314.81,102 L314.73,102.5 L314.65,103 L314.57,103.5 L314.49,104 L314.41,104.5 L314.33,105 L314.25,105.5 L314.17,106 L314.1,106.5 L314.02,107 L313.95,107.5 L313.88,108 L313.81,108.5 L313.75,109 L313.69,109.5 L313.63,110 L313.58,110.5 L313.52,111 L313.47,111.5 L313.42,112 L313.37,112.5 L313.32,113 L313.28,113.5 L313.23,114 L313.19,114.5 L313.15,115 L313.12,115.5 L313.09,116 L313.07,116.5 L313.05,117 L313.04,117.5 L313.04,118 L313.04,118.5 L313.05,119 L313.06,119.5 L313.08,120 L313.1,120.5 L313.13,121 L313.16,121.5 L313.19,122 L313.22,122.5 L313.26,123 L313.3,123.5 L313.34,124 L313.39,124.5 L313.44,125 L313.5,125.5 L313.57,126 L313.65,126.5 L313.74,127 L313.83,127.5 L313.92,128 L314,128.5 L314.08,129 L314.15,129.5 L314.2,130 L314.24,130.5 L314.28,131 L314.31,131.5 L314.33,132 L314.35,132.5 L314.37,133 L314.39,133.5 L314.42,134 L314.44,134.5 L314.47,135 L314.5,135.5 L314.55,136 L314.61,136.5 L314.67,137 L314.75,137.5 L314.84,138 L314.93,138.5 L315.03,139 L315.13,139.5 L315.22,140 L315.32,140.5 L315.42,141 L315.52,141.5 L315.61,142 L315.71,142.5 L315.81,143 L315.91,143.5 L316,144 L316.09,144.5 L316.17,145 L316.24,145.5 L316.32,146 L316.38,146.5 L316.44,147 L316.51,147.5 L316.56,148 L316.62,148.5 L316.68,149 L316.73,149.5 L316.79,150 L316.84,150.5 L316.88,151 L316.93,151.5 L316.98,152 L317.02,152.5 L317.05,153 L317.09,153.5 L317.12,154 L317.15,154.5 L317.18,155 L317.2,155.5 L317.22,156 L317.24,156.5 L317.25,157 L317.27,157.5 L317.28,158 L317.29,158.5 L317.31,159 L317.32,159.5 L317.33,160 L317.34,160.5 L317.35,161 L317.36,161.5 L317.36,162 L317.37,162.5 L317.38,163 L317.39,163.5 L317.4,164 L317.4,164.5 L317.41,165 L317.42,165.5 L317.43,166 L317.43,166.5 L317.44,167 L317.45,167.5 L317.45,168 L317.46,168.5 L317.47,169 L317.48,169.5 L317.48,170 L317.49,170.5 L317.5,171 L317.5,171.5 L317.51,172 L317.52,172.5 L317.52,173 L317.53,173.5 L317.54,174 L317.54,174.5 L317.55,175 L317.55,175.5 L317.56,176 L317.56,176.5 L317.56,177 L317.57,177.5 L317.57,178 L317.57,178.5 L317.57,179 L317.57,179.5 L317.57,180 L317.57,180.5 L317.57,181 L317.57,181.5 L317.57,182 L317.57,182.5 L317.57,183 L317.57,183.5 L317.57,184 L317.57,184.5 L317.57,185 L317.57,185.5 L317.57,186 L317.57,186.5 L317.57,187 L317.57,187.5 L317.57,188 L317.57,188.5 L317.57,189 L317.57,189.5 L317.57,190 L317.57,190.5 L317.57,191 L317.57,191.5 L317.57,192 L317.57,192.5 L317.57,193 L317.57,193.5 L317.57,194 L317.57,194.5 L317.57,195 L317.57,195.5 L317.57,196 L317.57,196.5 L317.57,197 L317.57,197.5 L317.57,198 L317.57,198.5 L317.57,199 L317.57,199.5 L317.57,200 L317.57,200.5 L317.57,201 L317.57,201.5 L317.57,202 L317.57,202.5 L317.57,203 L317.57,203.5 L317.57,204 L317.57,204.5 L317.57,205 L317.57,205.5 L317.57,206 L317.57,206.5 L317.57,207 L317.57,207.5 L317.57,208 L317.57,208.5 L317.57,209 L317.57,209.5 L317.57,210 L317.57,210.5 L317.57,211 L317.57,211.5 L317.57,212 L317.57,212.5 L317.57,213 L317.57,213.5 L317.57,214 L317.57,214.5 L317.58,215 L317.58,215.5 L317.58,216 L317.58,216.5 L317.58,217 L317.58,217.5 L317.58,218 L317.58,218.5 L317.59,219 L317.6,219.5 L317.62,220 L317.65,220.5 L317.68,221 L317.71,221.5 L317.75,222 L317.79,222.5 L317.82,223 L317.85,223.5 L317.88,223.8 L318.05,223.8Z" fill="#3274a1" stroke="#3d3d3d" stroke-width="1.45" stroke-linejoin="round"/><path d="M318.05,17 L318.23,17 L318.25,17.5 L318.29,18 L318.32,18.5 L318.36,19 L318.4,19.5 L318.43,20 L318.46,20.5 L318.48,21 L318.5,21.5 L318.52,22 L318.53,22.5 L318.53,23 L318.54,23.5 L318.54,24 L318.55,24.5 L318.55,25 L318.55,25.5 L318.56,26 L318.56,26.5 L318.56,27 L318.57,27.5 L318.57,28 L318.57,28.5 L318.57,29 L318.58,29.5 L318.58,30 L318.58,30.5 L318.58,31 L318.59,31.5 L318.59,32 L318.59,32.5 L318.59,33 L318.59,33.5 L318.59,34 L318.59,34.5 L318.6,35 L318.6,35.5 L318.6,36 L318.6,36.5 L318.6,37 L318.6,37.5 L318.6,38 L318.6,38.5 L318.6,39 L318.61,39.5 L318.61,40 L318.61,40.5 L318.61,41 L318.61,41.5 L318.61,42 L318.61,42.5 L318.61,43 L318.61,43.5 L318.61,44 L318.61,44.5 L318.61,45 L318.61,45.5 L318.62,46 L318.62,46.5 L318.62,47 L318.62,47.5 L318.62,48 L318.62,48.5 L318.62,49 L318.62,49.5 L318.62,50 L318.63,50.5 L318.63,51 L318.63,51.5 L318.63,52 L318.63,52.5 L318.63,53 L318.64,53.5 L318.64,54 L318.64,54.5 L318.64,55 L318.65,55.5 L318.65,56 L318.65,56.5 L318.65,57 L318.66,57.5 L318.66,58 L318.66,58.5 L318.67,59 L318.67,59.5 L318.68,60 L318.68,60.5 L318.69,61 L318.69,61.5 L318.7,62 L318.71,62.5 L318.72,63 L318.73,63.5 L318.75,64 L318.76,64.5 L318.77,65 L318.79,65.5 L318.81,66 L318.82,66.5 L318.84,67 L318.86,67.5 L318.88,68 L318.9,68.5 L318.93,69 L318.95,69.5 L318.98,70 L319,70.5 L319.03,71 L319.06,71.5 L319.09,72 L319.12,72.5 L319.15,73 L319.18,73.5 L319.21,74 L319.24,74.5 L319.28,75 L319.31,75.5 L319.35,76 L319.39,76.5 L319.43,77 L319.47,77.5 L319.51,78 L319.55,78.5 L319.59,79 L319.64,79.5 L319.69,80 L319.74,80.5 L319.81,81 L319.88,81.5 L319.97,82 L320.06,82.5 L320.16,83 L320.27,83.5 L320.39,84 L320.51,84.5 L320.63,85 L320.76,85.5 L320.9,86 L321.03,86.5 L321.17,87 L321.31,87.5 L321.44,88 L321.58,88.5 L321.71,89 L321.84,89.5 L321.98,90 L322.11,90.5 L322.24,91 L322.37,91.5 L322.51,92 L322.65,92.5 L322.79,93 L322.94,93.5 L323.08,94 L323.23,94.5 L323.37,95 L323.51,95.5 L323.65,96 L323.79,96.5 L323.93,97 L324.06,97.5 L324.19,98 L324.32,98.5 L324.44,99 L324.56,99.5 L324.67,100 L324.77,100.5 L324.87,101 L324.97,101.5 L325.07,102 L325.16,102.5 L325.25,103 L325.33,103.5 L325.42,104 L325.49,104.5 L325.56,105 L325.63,105.5 L325.69,106 L325.75,106.5 L325.81,107 L325.87,107.5 L325.92,108 L325.98,108.5 L326.05,109 L326.12,109.5 L326.21,110 L326.31,110.5 L326.43,111 L326.56,111.5 L326.71,112 L326.87,112.5 L327.03,113 L327.21,113.5 L327.38,114 L327.54,114.5 L327.7,115 L327.84,115.5 L327.96,116 L328.07,116.5 L328.15,117 L328.2,117.5 L328.24,118 L328.26,118.5 L328.26,119 L328.26,119.5 L328.25,120 L328.24,120.5 L328.23,121 L328.22,121.5 L328.2,122 L328.19,122.5 L328.17,123 L328.14,123.5 L328.11,124 L328.08,124.5 L328.02,125 L327.93,125.5 L327.82,126 L327.67,126.5 L327.49,127 L327.29,127.5 L327.07,128 L326.84,128.5 L326.62,129 L326.41,129.5 L326.2,130 L326.01,130.5 L325.82,131 L325.64,131.5 L325.46,132 L325.28,132.5 L325.11,133 L324.93,133.5 L324.76,134 L324.59,134.5 L324.42,135 L324.25,135.5 L324.08,136 L323.91,136.5 L323.74,137 L323.58,137.5 L323.42,138 L323.25,138.5 L323.09,139 L322.93,139.5 L322.77,140 L322.61,140.5 L322.45,141 L322.29,141.5 L322.12,142 L321.96,142.5 L321.8,143 L321.65,143.5 L321.5,144 L321.36,144.5 L321.23,145 L321.11,145.5 L320.99,146 L320.88,146.5 L320.78,147 L320.69,147.5 L320.6,148 L320.51,148.5 L320.42,149 L320.34,149.5 L320.26,150 L320.18,150.5 L320.1,151 L320.03,151.5 L319.96,152 L319.89,152.5 L319.83,153 L319.76,153.5 L319.7,154 L319.64,154.5 L319.59,155 L319.53,155.5 L319.48,156 L319.42,156.5 L319.37,157 L319.32,157.5 L319.27,158 L319.21,158.5 L319.16,159 L319.11,159.5 L319.07,160 L319.02,160.5 L318.97,161 L318.93,161.5 L318.89,162 L318.85,162.5 L318.82,163 L318.79,163.5 L318.76,164 L318.73,164.5 L318.71,165 L318.69,165.5 L318.68,166 L318.67,166.5 L318.66,167 L318.65,167.5 L318.64,168 L318.63,168.5 L318.62,169 L318.61,169.5 L318.61,170 L318.6,170.5 L318.59,171 L318.58,171.5 L318.58,172 L318.57,172.5 L318.57,173 L318.56,173.5 L318.56,174 L318.55,174.5 L318.55,175 L318.54,175.5 L318.54,176 L318.54,176.5 L318.53,177 L318.53,177.5 L318.53,178 L318.53,178.5 L318.53,179 L318.53,179.5 L318.53,180 L318.53,180.5 L318.53,181 L318.53,181.5 L318.53,182 L318.53,182.5 L318.53,183 L318.53,183.5 L318.53,184 L318.53,184.5 L318.53,185 L318.53,185.5 L318.53,186 L318.53,186.5 L318.53,187 L318.53,187.5 L318.53,188 L318.53,188.5 L318.53,189 L318.53,189.5 L318.53,190 L318.53,190.5 L318.53,191 L318.53,191.5 L318.53,192 L318.53,192.5 L318.53,193 L318.53,193.5 L318.53,194 L318.53,194.5 L318.53,195 L318.53,195.5 L318.53,196 L318.53,196.5 L318.53,197 L318.53,197.5 L318.53,198 L318.53,198.5 L318.53,199 L318.53,199.5 L318.53,200 L318.53,200.5 L318.53,201 L318.53,201.5 L318.53,202 L318.53,202.5 L318.53,203 L318.53,203.5 L318.53,204 L318.53,204.5 L318.53,205 L318.53,205.5 L318.53,206 L318.53,206.5 L318.53,207 L318.53,207.5 L318.53,208 L318.53,208.5 L318.53,209 L318.53,209.5 L318.53,210 L318.53,210.5 L318.53,211 L318.53,211.5 L318.53,212 L318.53,212.5 L318.53,213 L318.53,213.5 L318.53,214 L318.53,214.5 L318.52,215 L318.52,215.5 L318.52,216 L318.52,216.5 L318.52,217 L318.52,217.5 L318.52,218 L318.52,218.5 L318.51,219 L318.5,219.5 L318.48,220 L318.45,220.5 L318.42,221 L318.39,221.5 L318.35,222 L318.31,222.5 L318.28,223 L318.25,223.5 L318.22,223.8 L318.05,223.8Z" fill="#e1812c" stroke="#3d3d3d" stroke-width="1.45" stroke-linejoin="round"/><line x1="318.05" y1="103.70" x2="314.89" y2="103.70" stroke="#333" stroke-width="1.3" stroke-dasharray="1.2 0.95"/><line x1="318.05" y1="117.10" x2="313.40" y2="117.10" stroke="#333" stroke-width="1.3" stroke-dasharray="2.6 2.0"/><line x1="318.05" y1="129.50" x2="314.54" y2="129.50" stroke="#333" stroke-width="1.3" stroke-dasharray="1.2 0.95"/><line x1="318.05" y1="103.70" x2="325.01" y2="103.70" stroke="#333" stroke-width="1.3" stroke-dasharray="1.2 0.95"/><line x1="318.05" y1="117.10" x2="327.85" y2="117.10" stroke="#333" stroke-width="1.3" stroke-dasharray="2.6 2.0"/><line x1="318.05" y1="129.50" x2="326.01" y2="129.50" stroke="#333" stroke-width="1.3" stroke-dasharray="1.2 0.95"/><line x1="312.5" y1="117.8" x2="322.9" y2="116.6" stroke="#00f000" stroke-width="1.8" stroke-opacity="0.72"/><path d="M371.05,20.8 L370.87,20.8 L370.85,21.3 L370.81,21.8 L370.78,22.3 L370.74,22.8 L370.7,23.3 L370.67,23.8 L370.64,24.3 L370.62,24.8 L370.6,25.3 L370.58,25.8 L370.57,26.3 L370.57,26.8 L370.56,27.3 L370.56,27.8 L370.55,28.3 L370.55,28.8 L370.54,29.3 L370.54,29.8 L370.54,30.3 L370.53,30.8 L370.53,31.3 L370.53,31.8 L370.52,32.3 L370.52,32.8 L370.52,33.3 L370.52,33.8 L370.51,34.3 L370.51,34.8 L370.51,35.3 L370.51,35.8 L370.51,36.3 L370.51,36.8 L370.5,37.3 L370.5,37.8 L370.5,38.3 L370.5,38.8 L370.5,39.3 L370.5,39.8 L370.5,40.3 L370.49,40.8 L370.49,41.3 L370.49,41.8 L370.49,42.3 L370.49,42.8 L370.49,43.3 L370.49,43.8 L370.49,44.3 L370.49,44.8 L370.49,45.3 L370.48,45.8 L370.48,46.3 L370.48,46.8 L370.48,47.3 L370.48,47.8 L370.48,48.3 L370.48,48.8 L370.48,49.3 L370.48,49.8 L370.47,50.3 L370.47,50.8 L370.47,51.3 L370.47,51.8 L370.47,52.3 L370.47,52.8 L370.46,53.3 L370.46,53.8 L370.46,54.3 L370.46,54.8 L370.46,55.3 L370.45,55.8 L370.45,56.3 L370.45,56.8 L370.44,57.3 L370.44,57.8 L370.44,58.3 L370.43,58.8 L370.43,59.3 L370.43,59.8 L370.42,60.3 L370.41,60.8 L370.41,61.3 L370.4,61.8 L370.39,62.3 L370.38,62.8 L370.37,63.3 L370.35,63.8 L370.34,64.3 L370.33,64.8 L370.31,65.3 L370.29,65.8 L370.28,66.3 L370.26,66.8 L370.24,67.3 L370.22,67.8 L370.21,68.3 L370.19,68.8 L370.17,69.3 L370.15,69.8 L370.13,70.3 L370.11,70.8 L370.09,71.3 L370.07,71.8 L370.05,72.3 L370.03,72.8 L370.01,73.3 L369.99,73.8 L369.98,74.3 L369.96,74.8 L369.94,75.3 L369.93,75.8 L369.91,76.3 L369.9,76.8 L369.88,77.3 L369.87,77.8 L369.86,78.3 L369.85,78.8 L369.84,79.3 L369.83,79.8 L369.82,80.3 L369.82,80.8 L369.81,81.3 L369.81,81.8 L369.8,82.3 L369.8,82.8 L369.79,83.3 L369.79,83.8 L369.79,84.3 L369.78,84.8 L369.78,85.3 L369.77,85.8 L369.77,86.3 L369.77,86.8 L369.76,87.3 L369.76,87.8 L369.75,88.3 L369.74,88.8 L369.73,89.3 L369.72,89.8 L369.7,90.3 L369.66,90.8 L369.62,91.3 L369.57,91.8 L369.51,92.3 L369.43,92.8 L369.35,93.3 L369.26,93.8 L369.16,94.3 L369.06,94.8 L368.95,95.3 L368.83,95.8 L368.72,96.3 L368.61,96.8 L368.49,97.3 L368.38,97.8 L368.27,98.3 L368.17,98.8 L368.07,99.3 L367.97,99.8 L367.87,100.3 L367.78,100.8 L367.69,101.3 L367.6,101.8 L367.51,102.3 L367.42,102.8 L367.32,103.3 L367.23,103.8 L367.14,104.3 L367.05,104.8 L366.96,105.3 L366.87,105.8 L366.79,106.3 L366.7,106.8 L366.62,107.3 L366.54,107.8 L366.47,108.3 L366.39,108.8 L366.32,109.3 L366.25,109.8 L366.19,110.3 L366.12,110.8 L366.05,111.3 L365.99,111.8 L365.92,112.3 L365.86,112.8 L365.79,113.3 L365.73,113.8 L365.67,114.3 L365.62,114.8 L365.57,115.3 L365.53,115.8 L365.5,116.3 L365.47,116.8 L365.45,117.3 L365.44,117.8 L365.44,118.3 L365.45,118.8 L365.47,119.3 L365.49,119.8 L365.52,120.3 L365.56,120.8 L365.6,121.3 L365.65,121.8 L365.7,122.3 L365.76,122.8 L365.82,123.3 L365.88,123.8 L365.95,124.3 L366.02,124.8 L366.11,125.3 L366.21,125.8 L366.33,126.3 L366.46,126.8 L366.59,127.3 L366.73,127.8 L366.86,128.3 L366.98,128.8 L367.08,129.3 L367.16,129.8 L367.22,130.3 L367.26,130.8 L367.3,131.3 L367.33,131.8 L367.35,132.3 L367.37,132.8 L367.39,133.3 L367.41,133.8 L367.43,134.3 L367.46,134.8 L367.49,135.3 L367.53,135.8 L367.58,136.3 L367.64,136.8 L367.72,137.3 L367.8,137.8 L367.89,138.3 L367.99,138.8 L368.09,139.3 L368.18,139.8 L368.28,140.3 L368.38,140.8 L368.48,141.3 L368.57,141.8 L368.67,142.3 L368.77,142.8 L368.87,143.3 L368.96,143.8 L369.05,144.3 L369.14,144.8 L369.21,145.3 L369.29,145.8 L369.35,146.3 L369.42,146.8 L369.48,147.3 L369.54,147.8 L369.59,148.3 L369.65,148.8 L369.7,149.3 L369.75,149.8 L369.8,150.3 L369.85,150.8 L369.9,151.3 L369.94,151.8 L369.98,152.3 L370.02,152.8 L370.06,153.3 L370.1,153.8 L370.13,154.3 L370.16,154.8 L370.19,155.3 L370.21,155.8 L370.24,156.3 L370.26,156.8 L370.28,157.3 L370.3,157.8 L370.32,158.3 L370.34,158.8 L370.36,159.3 L370.38,159.8 L370.4,160.3 L370.41,160.8 L370.43,161.3 L370.45,161.8 L370.46,162.3 L370.47,162.8 L370.48,163.3 L370.49,163.8 L370.5,164.3 L370.51,164.8 L370.52,165.3 L370.52,165.8 L370.53,166.3 L370.53,166.8 L370.53,167.3 L370.54,167.8 L370.54,168.3 L370.54,168.8 L370.54,169.3 L370.55,169.8 L370.55,170.3 L370.55,170.8 L370.55,171.3 L370.56,171.8 L370.56,172.3 L370.56,172.8 L370.56,173.3 L370.56,173.8 L370.57,174.3 L370.57,174.8 L370.57,175.3 L370.57,175.8 L370.57,176.3 L370.57,176.8 L370.57,177.3 L370.57,177.8 L370.57,178.3 L370.57,178.8 L370.57,179.3 L370.57,179.8 L370.57,180.3 L370.57,180.8 L370.57,181.3 L370.57,181.8 L370.57,182.3 L370.57,182.8 L370.57,183.3 L370.57,183.8 L370.57,184.3 L370.57,184.8 L370.57,185.3 L370.57,185.8 L370.57,186.3 L370.57,186.8 L370.57,187.3 L370.57,187.8 L370.57,188.3 L370.57,188.8 L370.57,189.3 L370.57,189.8 L370.57,190.3 L370.57,190.8 L370.57,191.3 L370.57,191.8 L370.57,192.3 L370.57,192.8 L370.57,193.3 L370.57,193.8 L370.57,194.3 L370.57,194.8 L370.57,195.3 L370.57,195.8 L370.57,196.3 L370.57,196.8 L370.57,197.3 L370.57,197.8 L370.57,198.3 L370.57,198.8 L370.57,199.3 L370.57,199.8 L370.57,200.3 L370.57,200.8 L370.57,201.3 L370.57,201.8 L370.57,202.3 L370.57,202.8 L370.57,203.3 L370.57,203.8 L370.57,204.3 L370.57,204.8 L370.57,205.3 L370.57,205.8 L370.57,206.3 L370.57,206.8 L370.57,207.3 L370.57,207.8 L370.58,208.3 L370.58,208.8 L370.58,209.3 L370.58,209.8 L370.58,210.3 L370.58,210.8 L370.58,211.3 L370.58,211.8 L370.59,212.3 L370.6,212.8 L370.62,213.3 L370.64,213.8 L370.67,214.3 L370.71,214.8 L370.74,215.3 L370.78,215.8 L370.82,216.3 L370.85,216.8 L370.87,217.2 L371.05,217.2Z" fill="#3274a1" stroke="#3d3d3d" stroke-width="1.45" stroke-linejoin="round"/><path d="M371.05,20.8 L371.23,20.8 L371.25,21.3 L371.29,21.8 L371.32,22.3 L371.36,22.8 L371.4,23.3 L371.43,23.8 L371.46,24.3 L371.48,24.8 L371.5,25.3 L371.52,25.8 L371.53,26.3 L371.53,26.8 L371.54,27.3 L371.54,27.8 L371.55,28.3 L371.55,28.8 L371.56,29.3 L371.56,29.8 L371.56,30.3 L371.57,30.8 L371.57,31.3 L371.57,31.8 L371.58,32.3 L371.58,32.8 L371.58,33.3 L371.58,33.8 L371.59,34.3 L371.59,34.8 L371.59,35.3 L371.59,35.8 L371.59,36.3 L371.59,36.8 L371.6,37.3 L371.6,37.8 L371.6,38.3 L371.6,38.8 L371.6,39.3 L371.6,39.8 L371.6,40.3 L371.6,40.8 L371.61,41.3 L371.61,41.8 L371.61,42.3 L371.61,42.8 L371.61,43.3 L371.61,43.8 L371.61,44.3 L371.61,44.8 L371.61,45.3 L371.61,45.8 L371.62,46.3 L371.62,46.8 L371.62,47.3 L371.62,47.8 L371.62,48.3 L371.62,48.8 L371.62,49.3 L371.62,49.8 L371.62,50.3 L371.63,50.8 L371.63,51.3 L371.63,51.8 L371.63,52.3 L371.63,52.8 L371.64,53.3 L371.64,53.8 L371.64,54.3 L371.64,54.8 L371.64,55.3 L371.65,55.8 L371.65,56.3 L371.65,56.8 L371.66,57.3 L371.66,57.8 L371.66,58.3 L371.67,58.8 L371.67,59.3 L371.67,59.8 L371.68,60.3 L371.68,60.8 L371.69,61.3 L371.69,61.8 L371.7,62.3 L371.71,62.8 L371.72,63.3 L371.72,63.8 L371.73,64.3 L371.74,64.8 L371.75,65.3 L371.76,65.8 L371.78,66.3 L371.79,66.8 L371.8,67.3 L371.81,67.8 L371.83,68.3 L371.84,68.8 L371.86,69.3 L371.88,69.8 L371.89,70.3 L371.91,70.8 L371.93,71.3 L371.95,71.8 L371.97,72.3 L371.99,72.8 L372.01,73.3 L372.03,73.8 L372.06,74.3 L372.08,74.8 L372.1,75.3 L372.13,75.8 L372.16,76.3 L372.18,76.8 L372.21,77.3 L372.24,77.8 L372.27,78.3 L372.3,78.8 L372.33,79.3 L372.37,79.8 L372.42,80.3 L372.47,80.8 L372.53,81.3 L372.6,81.8 L372.68,82.3 L372.78,82.8 L372.88,83.3 L372.99,83.8 L373.1,84.3 L373.23,84.8 L373.36,85.3 L373.49,85.8 L373.63,86.3 L373.77,86.8 L373.91,87.3 L374.05,87.8 L374.2,88.3 L374.34,88.8 L374.48,89.3 L374.62,89.8 L374.77,90.3 L374.92,90.8 L375.07,91.3 L375.23,91.8 L375.39,92.3 L375.56,92.8 L375.74,93.3 L375.91,93.8 L376.09,94.3 L376.27,94.8 L376.45,95.3 L376.63,95.8 L376.8,96.3 L376.98,96.8 L377.15,97.3 L377.31,97.8 L377.47,98.3 L377.62,98.8 L377.77,99.3 L377.91,99.8 L378.04,100.3 L378.17,100.8 L378.29,101.3 L378.4,101.8 L378.52,102.3 L378.63,102.8 L378.74,103.3 L378.84,103.8 L378.95,104.3 L379.05,104.8 L379.15,105.3 L379.25,105.8 L379.35,106.3 L379.44,106.8 L379.54,107.3 L379.64,107.8 L379.74,108.3 L379.84,108.8 L379.94,109.3 L380.04,109.8 L380.15,110.3 L380.27,110.8 L380.39,111.3 L380.51,111.8 L380.64,112.3 L380.77,112.8 L380.89,113.3 L381.02,113.8 L381.14,114.3 L381.25,114.8 L381.35,115.3 L381.44,115.8 L381.51,116.3 L381.57,116.8 L381.62,117.3 L381.64,117.8 L381.65,118.3 L381.66,118.8 L381.65,119.3 L381.63,119.8 L381.62,120.3 L381.59,120.8 L381.57,121.3 L381.54,121.8 L381.5,122.3 L381.47,122.8 L381.43,123.3 L381.38,123.8 L381.33,124.3 L381.27,124.8 L381.2,125.3 L381.11,125.8 L381,126.3 L380.88,126.8 L380.73,127.3 L380.57,127.8 L380.4,128.3 L380.22,128.8 L380.03,129.3 L379.83,129.8 L379.62,130.3 L379.4,130.8 L379.16,131.3 L378.91,131.8 L378.64,132.3 L378.37,132.8 L378.1,133.3 L377.83,133.8 L377.57,134.3 L377.32,134.8 L377.1,135.3 L376.9,135.8 L376.71,136.3 L376.55,136.8 L376.39,137.3 L376.25,137.8 L376.12,138.3 L375.99,138.8 L375.85,139.3 L375.72,139.8 L375.58,140.3 L375.43,140.8 L375.29,141.3 L375.14,141.8 L374.98,142.3 L374.83,142.8 L374.68,143.3 L374.54,143.8 L374.4,144.3 L374.27,144.8 L374.15,145.3 L374.03,145.8 L373.93,146.3 L373.83,146.8 L373.73,147.3 L373.64,147.8 L373.55,148.3 L373.46,148.8 L373.38,149.3 L373.29,149.8 L373.22,150.3 L373.14,150.8 L373.06,151.3 L372.99,151.8 L372.92,152.3 L372.86,152.8 L372.79,153.3 L372.73,153.8 L372.67,154.3 L372.61,154.8 L372.55,155.3 L372.5,155.8 L372.44,156.3 L372.39,156.8 L372.34,157.3 L372.29,157.8 L372.23,158.3 L372.18,158.8 L372.13,159.3 L372.08,159.8 L372.04,160.3 L371.99,160.8 L371.95,161.3 L371.91,161.8 L371.87,162.3 L371.83,162.8 L371.8,163.3 L371.77,163.8 L371.74,164.3 L371.72,164.8 L371.7,165.3 L371.69,165.8 L371.67,166.3 L371.66,166.8 L371.65,167.3 L371.64,167.8 L371.63,168.3 L371.62,168.8 L371.62,169.3 L371.61,169.8 L371.6,170.3 L371.59,170.8 L371.59,171.3 L371.58,171.8 L371.57,172.3 L371.57,172.8 L371.56,173.3 L371.56,173.8 L371.55,174.3 L371.55,174.8 L371.54,175.3 L371.54,175.8 L371.54,176.3 L371.53,176.8 L371.53,177.3 L371.53,177.8 L371.53,178.3 L371.53,178.8 L371.53,179.3 L371.53,179.8 L371.53,180.3 L371.53,180.8 L371.53,181.3 L371.53,181.8 L371.53,182.3 L371.53,182.8 L371.53,183.3 L371.53,183.8 L371.53,184.3 L371.53,184.8 L371.53,185.3 L371.53,185.8 L371.53,186.3 L371.53,186.8 L371.53,187.3 L371.53,187.8 L371.53,188.3 L371.53,188.8 L371.53,189.3 L371.53,189.8 L371.53,190.3 L371.53,190.8 L371.53,191.3 L371.53,191.8 L371.53,192.3 L371.53,192.8 L371.53,193.3 L371.53,193.8 L371.53,194.3 L371.53,194.8 L371.53,195.3 L371.53,195.8 L371.53,196.3 L371.53,196.8 L371.53,197.3 L371.53,197.8 L371.53,198.3 L371.53,198.8 L371.53,199.3 L371.53,199.8 L371.53,200.3 L371.53,200.8 L371.53,201.3 L371.53,201.8 L371.53,202.3 L371.53,202.8 L371.53,203.3 L371.53,203.8 L371.53,204.3 L371.53,204.8 L371.53,205.3 L371.53,205.8 L371.53,206.3 L371.53,206.8 L371.53,207.3 L371.53,207.8 L371.52,208.3 L371.52,208.8 L371.52,209.3 L371.52,209.8 L371.52,210.3 L371.52,210.8 L371.52,211.3 L371.52,211.8 L371.51,212.3 L371.5,212.8 L371.48,213.3 L371.46,213.8 L371.43,214.3 L371.39,214.8 L371.36,215.3 L371.32,215.8 L371.28,216.3 L371.25,216.8 L371.23,217.2 L371.05,217.2Z" fill="#e1812c" stroke="#3d3d3d" stroke-width="1.45" stroke-linejoin="round"/><line x1="371.05" y1="104.90" x2="367.39" y2="104.90" stroke="#333" stroke-width="1.3" stroke-dasharray="1.2 0.95"/><line x1="371.05" y1="117.40" x2="365.80" y2="117.40" stroke="#333" stroke-width="1.3" stroke-dasharray="2.6 2.0"/><line x1="371.05" y1="129.30" x2="367.49" y2="129.30" stroke="#333" stroke-width="1.3" stroke-dasharray="1.2 0.95"/><line x1="371.05" y1="104.90" x2="378.71" y2="104.90" stroke="#333" stroke-width="1.3" stroke-dasharray="1.2 0.95"/><line x1="371.05" y1="117.40" x2="381.30" y2="117.40" stroke="#333" stroke-width="1.3" stroke-dasharray="2.6 2.0"/><line x1="371.05" y1="129.30" x2="379.68" y2="129.30" stroke="#333" stroke-width="1.3" stroke-dasharray="1.2 0.95"/><line x1="364.3" y1="118.3" x2="376.5" y2="117.4" stroke="#00f000" stroke-width="1.8" stroke-opacity="0.72"/><path d="M424.8,17 L424.62,17 L424.59,17.5 L424.56,18 L424.53,18.5 L424.49,19 L424.45,19.5 L424.42,20 L424.39,20.5 L424.37,21 L424.35,21.5 L424.33,22 L424.33,22.5 L424.32,23 L424.32,23.5 L424.31,24 L424.31,24.5 L424.31,25 L424.31,25.5 L424.3,26 L424.3,26.5 L424.3,27 L424.3,27.5 L424.29,28 L424.29,28.5 L424.29,29 L424.29,29.5 L424.29,30 L424.29,30.5 L424.29,31 L424.28,31.5 L424.28,32 L424.28,32.5 L424.28,33 L424.28,33.5 L424.28,34 L424.28,34.5 L424.28,35 L424.28,35.5 L424.28,36 L424.27,36.5 L424.27,37 L424.27,37.5 L424.27,38 L424.27,38.5 L424.27,39 L424.27,39.5 L424.27,40 L424.27,40.5 L424.27,41 L424.27,41.5 L424.27,42 L424.27,42.5 L424.27,43 L424.27,43.5 L424.27,44 L424.27,44.5 L424.27,45 L424.26,45.5 L424.26,46 L424.26,46.5 L424.26,47 L424.26,47.5 L424.26,48 L424.26,48.5 L424.26,49 L424.26,49.5 L424.26,50 L424.26,50.5 L424.26,51 L424.26,51.5 L424.25,52 L424.25,52.5 L424.25,53 L424.25,53.5 L424.25,54 L424.25,54.5 L424.25,55 L424.24,55.5 L424.24,56 L424.24,56.5 L424.24,57 L424.24,57.5 L424.23,58 L424.23,58.5 L424.23,59 L424.23,59.5 L424.22,60 L424.22,60.5 L424.21,61 L424.21,61.5 L424.2,62 L424.19,62.5 L424.18,63 L424.17,63.5 L424.16,64 L424.15,64.5 L424.13,65 L424.12,65.5 L424.1,66 L424.08,66.5 L424.07,67 L424.05,67.5 L424.03,68 L424.01,68.5 L423.99,69 L423.96,69.5 L423.94,70 L423.92,70.5 L423.9,71 L423.87,71.5 L423.85,72 L423.82,72.5 L423.8,73 L423.77,73.5 L423.74,74 L423.72,74.5 L423.69,75 L423.67,75.5 L423.64,76 L423.61,76.5 L423.59,77 L423.56,77.5 L423.53,78 L423.5,78.5 L423.48,79 L423.45,79.5 L423.43,80 L423.4,80.5 L423.37,81 L423.35,81.5 L423.32,82 L423.29,82.5 L423.26,83 L423.24,83.5 L423.21,84 L423.18,84.5 L423.14,85 L423.11,85.5 L423.08,86 L423.04,86.5 L423,87 L422.96,87.5 L422.92,88 L422.87,88.5 L422.82,89 L422.77,89.5 L422.7,90 L422.63,90.5 L422.54,91 L422.45,91.5 L422.34,92 L422.22,92.5 L422.1,93 L421.98,93.5 L421.86,94 L421.74,94.5 L421.63,95 L421.54,95.5 L421.45,96 L421.37,96.5 L421.29,97 L421.23,97.5 L421.17,98 L421.11,98.5 L421.05,99 L421,99.5 L420.94,100 L420.89,100.5 L420.83,101 L420.77,101.5 L420.71,102 L420.64,102.5 L420.58,103 L420.51,103.5 L420.44,104 L420.37,104.5 L420.3,105 L420.23,105.5 L420.16,106 L420.09,106.5 L420.02,107 L419.95,107.5 L419.89,108 L419.83,108.5 L419.77,109 L419.71,109.5 L419.65,110 L419.59,110.5 L419.53,111 L419.47,111.5 L419.41,112 L419.36,112.5 L419.3,113 L419.24,113.5 L419.18,114 L419.12,114.5 L419.06,115 L419,115.5 L418.94,116 L418.88,116.5 L418.82,117 L418.76,117.5 L418.69,118 L418.63,118.5 L418.56,119 L418.49,119.5 L418.41,120 L418.32,120.5 L418.23,121 L418.15,121.5 L418.07,122 L418,122.5 L417.95,123 L417.91,123.5 L417.88,124 L417.86,124.5 L417.85,125 L417.85,125.5 L417.86,126 L417.88,126.5 L417.91,127 L417.96,127.5 L418.03,128 L418.1,128.5 L418.2,129 L418.3,129.5 L418.43,130 L418.56,130.5 L418.71,131 L418.87,131.5 L419.03,132 L419.2,132.5 L419.37,133 L419.54,133.5 L419.71,134 L419.89,134.5 L420.06,135 L420.23,135.5 L420.4,136 L420.57,136.5 L420.73,137 L420.87,137.5 L421.01,138 L421.15,138.5 L421.27,139 L421.39,139.5 L421.51,140 L421.63,140.5 L421.75,141 L421.87,141.5 L421.99,142 L422.1,142.5 L422.21,143 L422.3,143.5 L422.38,144 L422.46,144.5 L422.53,145 L422.59,145.5 L422.66,146 L422.73,146.5 L422.8,147 L422.88,147.5 L422.96,148 L423.06,148.5 L423.15,149 L423.25,149.5 L423.34,150 L423.43,150.5 L423.51,151 L423.58,151.5 L423.64,152 L423.69,152.5 L423.74,153 L423.78,153.5 L423.82,154 L423.85,154.5 L423.89,155 L423.92,155.5 L423.95,156 L423.98,156.5 L424,157 L424.03,157.5 L424.05,158 L424.07,158.5 L424.09,159 L424.11,159.5 L424.12,160 L424.14,160.5 L424.15,161 L424.17,161.5 L424.18,162 L424.2,162.5 L424.21,163 L424.23,163.5 L424.24,164 L424.25,164.5 L424.26,165 L424.27,165.5 L424.28,166 L424.29,166.5 L424.3,167 L424.31,167.5 L424.31,168 L424.32,168.5 L424.32,169 L424.32,169.5 L424.32,170 L424.32,170.5 L424.32,171 L424.32,171.5 L424.32,172 L424.32,172.5 L424.32,173 L424.32,173.5 L424.32,174 L424.32,174.5 L424.32,175 L424.32,175.5 L424.32,176 L424.32,176.5 L424.32,177 L424.32,177.5 L424.32,178 L424.32,178.5 L424.32,179 L424.32,179.5 L424.32,180 L424.32,180.5 L424.32,181 L424.32,181.5 L424.32,182 L424.32,182.5 L424.32,183 L424.32,183.5 L424.32,184 L424.32,184.5 L424.32,185 L424.32,185.5 L424.32,186 L424.32,186.5 L424.32,187 L424.32,187.5 L424.32,188 L424.32,188.5 L424.32,189 L424.32,189.5 L424.32,190 L424.32,190.5 L424.32,191 L424.32,191.5 L424.32,192 L424.32,192.5 L424.32,193 L424.32,193.5 L424.32,194 L424.32,194.5 L424.32,195 L424.32,195.5 L424.32,196 L424.32,196.5 L424.32,197 L424.32,197.5 L424.32,198 L424.32,198.5 L424.32,199 L424.32,199.5 L424.32,200 L424.32,200.5 L424.32,201 L424.32,201.5 L424.32,202 L424.32,202.5 L424.32,203 L424.32,203.5 L424.32,204 L424.32,204.5 L424.32,205 L424.32,205.5 L424.32,206 L424.32,206.5 L424.32,207 L424.32,207.5 L424.32,208 L424.32,208.5 L424.32,209 L424.32,209.5 L424.32,210 L424.33,210.5 L424.33,211 L424.33,211.5 L424.33,212 L424.33,212.5 L424.33,213 L424.33,213.5 L424.33,214 L424.34,214.5 L424.35,215 L424.37,215.5 L424.4,216 L424.43,216.5 L424.46,217 L424.5,217.5 L424.54,218 L424.57,218.5 L424.6,219 L424.62,219.3 L424.8,219.3Z" fill="#3274a1" stroke="#3d3d3d" stroke-width="1.45" stroke-linejoin="round"/><path d="M424.8,17 L424.98,17 L425.01,17.5 L425.04,18 L425.07,18.5 L425.11,19 L425.15,19.5 L425.18,20 L425.21,20.5 L425.23,21 L425.25,21.5 L425.27,22 L425.27,22.5 L425.28,23 L425.28,23.5 L425.29,24 L425.29,24.5 L425.29,25 L425.29,25.5 L425.3,26 L425.3,26.5 L425.3,27 L425.3,27.5 L425.31,28 L425.31,28.5 L425.31,29 L425.31,29.5 L425.31,30 L425.31,30.5 L425.31,31 L425.32,31.5 L425.32,32 L425.32,32.5 L425.32,33 L425.32,33.5 L425.32,34 L425.32,34.5 L425.32,35 L425.32,35.5 L425.32,36 L425.33,36.5 L425.33,37 L425.33,37.5 L425.33,38 L425.33,38.5 L425.33,39 L425.33,39.5 L425.33,40 L425.33,40.5 L425.33,41 L425.33,41.5 L425.33,42 L425.33,42.5 L425.33,43 L425.33,43.5 L425.33,44 L425.33,44.5 L425.33,45 L425.34,45.5 L425.34,46 L425.34,46.5 L425.34,47 L425.34,47.5 L425.34,48 L425.34,48.5 L425.34,49 L425.34,49.5 L425.34,50 L425.34,50.5 L425.34,51 L425.34,51.5 L425.35,52 L425.35,52.5 L425.35,53 L425.35,53.5 L425.35,54 L425.35,54.5 L425.35,55 L425.36,55.5 L425.36,56 L425.36,56.5 L425.36,57 L425.36,57.5 L425.37,58 L425.37,58.5 L425.37,59 L425.37,59.5 L425.38,60 L425.38,60.5 L425.38,61 L425.39,61.5 L425.4,62 L425.4,62.5 L425.41,63 L425.42,63.5 L425.43,64 L425.45,64.5 L425.46,65 L425.47,65.5 L425.49,66 L425.5,66.5 L425.52,67 L425.54,67.5 L425.56,68 L425.57,68.5 L425.59,69 L425.61,69.5 L425.64,70 L425.66,70.5 L425.68,71 L425.7,71.5 L425.73,72 L425.75,72.5 L425.78,73 L425.8,73.5 L425.83,74 L425.85,74.5 L425.88,75 L425.91,75.5 L425.94,76 L425.97,76.5 L426,77 L426.02,77.5 L426.05,78 L426.08,78.5 L426.11,79 L426.15,79.5 L426.18,80 L426.21,80.5 L426.25,81 L426.29,81.5 L426.34,82 L426.38,82.5 L426.43,83 L426.48,83.5 L426.54,84 L426.6,84.5 L426.65,85 L426.71,85.5 L426.77,86 L426.84,86.5 L426.9,87 L426.96,87.5 L427.02,88 L427.09,88.5 L427.15,89 L427.21,89.5 L427.27,90 L427.33,90.5 L427.39,91 L427.46,91.5 L427.52,92 L427.58,92.5 L427.64,93 L427.71,93.5 L427.78,94 L427.85,94.5 L427.92,95 L428,95.5 L428.09,96 L428.18,96.5 L428.28,97 L428.39,97.5 L428.5,98 L428.62,98.5 L428.74,99 L428.86,99.5 L428.99,100 L429.12,100.5 L429.24,101 L429.37,101.5 L429.5,102 L429.63,102.5 L429.75,103 L429.88,103.5 L430.01,104 L430.14,104.5 L430.27,105 L430.4,105.5 L430.53,106 L430.66,106.5 L430.79,107 L430.92,107.5 L431.05,108 L431.18,108.5 L431.31,109 L431.43,109.5 L431.56,110 L431.69,110.5 L431.82,111 L431.94,111.5 L432.07,112 L432.2,112.5 L432.32,113 L432.45,113.5 L432.58,114 L432.7,114.5 L432.83,115 L432.95,115.5 L433.08,116 L433.2,116.5 L433.33,117 L433.46,117.5 L433.58,118 L433.7,118.5 L433.83,119 L433.96,119.5 L434.08,120 L434.21,120.5 L434.34,121 L434.46,121.5 L434.58,122 L434.67,122.5 L434.75,123 L434.81,123.5 L434.86,124 L434.9,124.5 L434.92,125 L434.92,125.5 L434.9,126 L434.85,126.5 L434.77,127 L434.65,127.5 L434.51,128 L434.34,128.5 L434.15,129 L433.94,129.5 L433.7,130 L433.44,130.5 L433.16,131 L432.85,131.5 L432.53,132 L432.18,132.5 L431.83,133 L431.47,133.5 L431.12,134 L430.8,134.5 L430.5,135 L430.22,135.5 L429.97,136 L429.74,136.5 L429.54,137 L429.36,137.5 L429.2,138 L429.05,138.5 L428.92,139 L428.8,139.5 L428.69,140 L428.57,140.5 L428.46,141 L428.34,141.5 L428.23,142 L428.11,142.5 L427.99,143 L427.86,143.5 L427.72,144 L427.57,144.5 L427.43,145 L427.28,145.5 L427.13,146 L427,146.5 L426.87,147 L426.75,147.5 L426.65,148 L426.55,148.5 L426.46,149 L426.38,149.5 L426.3,150 L426.23,150.5 L426.17,151 L426.11,151.5 L426.05,152 L426,152.5 L425.95,153 L425.9,153.5 L425.86,154 L425.81,154.5 L425.77,155 L425.73,155.5 L425.69,156 L425.66,156.5 L425.63,157 L425.6,157.5 L425.57,158 L425.54,158.5 L425.52,159 L425.5,159.5 L425.48,160 L425.46,160.5 L425.44,161 L425.43,161.5 L425.41,162 L425.4,162.5 L425.39,163 L425.37,163.5 L425.36,164 L425.35,164.5 L425.34,165 L425.33,165.5 L425.32,166 L425.31,166.5 L425.3,167 L425.29,167.5 L425.29,168 L425.28,168.5 L425.28,169 L425.28,169.5 L425.28,170 L425.28,170.5 L425.28,171 L425.28,171.5 L425.28,172 L425.28,172.5 L425.28,173 L425.28,173.5 L425.28,174 L425.28,174.5 L425.28,175 L425.28,175.5 L425.28,176 L425.28,176.5 L425.28,177 L425.28,177.5 L425.28,178 L425.28,178.5 L425.28,179 L425.28,179.5 L425.28,180 L425.28,180.5 L425.28,181 L425.28,181.5 L425.28,182 L425.28,182.5 L425.28,183 L425.28,183.5 L425.28,184 L425.28,184.5 L425.28,185 L425.28,185.5 L425.28,186 L425.28,186.5 L425.28,187 L425.28,187.5 L425.28,188 L425.28,188.5 L425.28,189 L425.28,189.5 L425.28,190 L425.28,190.5 L425.28,191 L425.28,191.5 L425.28,192 L425.28,192.5 L425.28,193 L425.28,193.5 L425.28,194 L425.28,194.5 L425.28,195 L425.28,195.5 L425.28,196 L425.28,196.5 L425.28,197 L425.28,197.5 L425.28,198 L425.28,198.5 L425.28,199 L425.28,199.5 L425.28,200 L425.28,200.5 L425.28,201 L425.28,201.5 L425.28,202 L425.28,202.5 L425.28,203 L425.28,203.5 L425.28,204 L425.28,204.5 L425.28,205 L425.28,205.5 L425.28,206 L425.28,206.5 L425.28,207 L425.28,207.5 L425.28,208 L425.28,208.5 L425.28,209 L425.28,209.5 L425.28,210 L425.27,210.5 L425.27,211 L425.27,211.5 L425.27,212 L425.27,212.5 L425.27,213 L425.27,213.5 L425.27,214 L425.26,214.5 L425.25,215 L425.23,215.5 L425.2,216 L425.17,216.5 L425.14,217 L425.1,217.5 L425.06,218 L425.03,218.5 L425,219 L424.98,219.3 L424.8,219.3Z" fill="#e1812c" stroke="#3d3d3d" stroke-width="1.45" stroke-linejoin="round"/><line x1="424.80" y1="107.40" x2="420.33" y2="107.40" stroke="#333" stroke-width="1.3" stroke-dasharray="1.2 0.95"/><line x1="424.80" y1="120.80" x2="418.64" y2="120.80" stroke="#333" stroke-width="1.3" stroke-dasharray="2.6 2.0"/><line x1="424.80" y1="131.70" x2="419.29" y2="131.70" stroke="#333" stroke-width="1.3" stroke-dasharray="1.2 0.95"/><line x1="424.80" y1="107.40" x2="430.54" y2="107.40" stroke="#333" stroke-width="1.3" stroke-dasharray="1.2 0.95"/><line x1="424.80" y1="120.80" x2="433.93" y2="120.80" stroke="#333" stroke-width="1.3" stroke-dasharray="2.6 2.0"/><line x1="424.80" y1="131.70" x2="432.41" y2="131.70" stroke="#333" stroke-width="1.3" stroke-dasharray="1.2 0.95"/><line x1="417.6" y1="118.8" x2="430.0" y2="118.8" stroke="#00f000" stroke-width="1.8" stroke-opacity="0.72"/><path d="M477.3,15.3 L477.12,15.3 L477.09,15.8 L477.06,16.3 L477.03,16.8 L476.99,17.3 L476.95,17.8 L476.92,18.3 L476.89,18.8 L476.86,19.3 L476.85,19.8 L476.84,20.3 L476.83,20.8 L476.83,21.3 L476.83,21.8 L476.83,22.3 L476.83,22.8 L476.83,23.3 L476.83,23.8 L476.82,24.3 L476.82,24.8 L476.82,25.3 L476.82,25.8 L476.82,26.3 L476.82,26.8 L476.82,27.3 L476.82,27.8 L476.82,28.3 L476.82,28.8 L476.82,29.3 L476.82,29.8 L476.82,30.3 L476.82,30.8 L476.82,31.3 L476.82,31.8 L476.82,32.3 L476.82,32.8 L476.82,33.3 L476.82,33.8 L476.82,34.3 L476.82,34.8 L476.82,35.3 L476.82,35.8 L476.82,36.3 L476.82,36.8 L476.82,37.3 L476.82,37.8 L476.82,38.3 L476.82,38.8 L476.82,39.3 L476.82,39.8 L476.82,40.3 L476.82,40.8 L476.82,41.3 L476.82,41.8 L476.82,42.3 L476.82,42.8 L476.82,43.3 L476.82,43.8 L476.82,44.3 L476.82,44.8 L476.82,45.3 L476.82,45.8 L476.82,46.3 L476.82,46.8 L476.82,47.3 L476.82,47.8 L476.82,48.3 L476.82,48.8 L476.82,49.3 L476.82,49.8 L476.82,50.3 L476.82,50.8 L476.82,51.3 L476.82,51.8 L476.82,52.3 L476.82,52.8 L476.82,53.3 L476.82,53.8 L476.82,54.3 L476.82,54.8 L476.82,55.3 L476.82,55.8 L476.82,56.3 L476.82,56.8 L476.82,57.3 L476.82,57.8 L476.82,58.3 L476.82,58.8 L476.82,59.3 L476.82,59.8 L476.82,60.3 L476.82,60.8 L476.82,61.3 L476.81,61.8 L476.8,62.3 L476.8,62.8 L476.79,63.3 L476.78,63.8 L476.76,64.3 L476.75,64.8 L476.73,65.3 L476.71,65.8 L476.7,66.3 L476.67,66.8 L476.65,67.3 L476.61,67.8 L476.56,68.3 L476.5,68.8 L476.43,69.3 L476.34,69.8 L476.25,70.3 L476.16,70.8 L476.07,71.3 L475.98,71.8 L475.9,72.3 L475.83,72.8 L475.77,73.3 L475.71,73.8 L475.68,74.3 L475.66,74.8 L475.66,75.3 L475.67,75.8 L475.69,76.3 L475.71,76.8 L475.74,77.3 L475.78,77.8 L475.81,78.3 L475.85,78.8 L475.88,79.3 L475.91,79.8 L475.94,80.3 L475.96,80.8 L475.99,81.3 L476.02,81.8 L476.04,82.3 L476.07,82.8 L476.1,83.3 L476.12,83.8 L476.15,84.3 L476.17,84.8 L476.2,85.3 L476.22,85.8 L476.24,86.3 L476.26,86.8 L476.27,87.3 L476.29,87.8 L476.3,88.3 L476.31,88.8 L476.31,89.3 L476.32,89.8 L476.32,90.3 L476.31,90.8 L476.3,91.3 L476.29,91.8 L476.27,92.3 L476.25,92.8 L476.22,93.3 L476.2,93.8 L476.17,94.3 L476.14,94.8 L476.11,95.3 L476.08,95.8 L476.04,96.3 L476.01,96.8 L475.98,97.3 L475.95,97.8 L475.92,98.3 L475.89,98.8 L475.86,99.3 L475.84,99.8 L475.81,100.3 L475.79,100.8 L475.77,101.3 L475.75,101.8 L475.73,102.3 L475.71,102.8 L475.69,103.3 L475.68,103.8 L475.66,104.3 L475.64,104.8 L475.62,105.3 L475.6,105.8 L475.58,106.3 L475.57,106.8 L475.55,107.3 L475.52,107.8 L475.5,108.3 L475.48,108.8 L475.46,109.3 L475.43,109.8 L475.41,110.3 L475.38,110.8 L475.35,111.3 L475.32,111.8 L475.29,112.3 L475.26,112.8 L475.23,113.3 L475.19,113.8 L475.15,114.3 L475.12,114.8 L475.08,115.3 L475.04,115.8 L475,116.3 L474.95,116.8 L474.91,117.3 L474.86,117.8 L474.8,118.3 L474.73,118.8 L474.65,119.3 L474.55,119.8 L474.41,120.3 L474.19,120.8 L473.84,121.3 L473.29,121.8 L472.46,122.3 L471.35,122.8 L470.01,123.3 L468.53,123.8 L467,124.3 L465.51,124.8 L464.07,125.3 L462.72,125.8 L461.46,126.3 L460.28,126.8 L459.23,127.3 L458.37,127.8 L457.8,128.3 L457.63,128.8 L457.88,129.3 L458.51,129.8 L459.43,130.3 L460.49,130.8 L461.63,131.3 L462.79,131.8 L463.93,132.3 L465.04,132.8 L466.12,133.3 L467.15,133.8 L468.12,134.3 L469.03,134.8 L469.86,135.3 L470.63,135.8 L471.32,136.3 L471.95,136.8 L472.52,137.3 L473.02,137.8 L473.46,138.3 L473.83,138.8 L474.14,139.3 L474.39,139.8 L474.59,140.3 L474.75,140.8 L474.89,141.3 L475.02,141.8 L475.13,142.3 L475.23,142.8 L475.33,143.3 L475.42,143.8 L475.51,144.3 L475.59,144.8 L475.68,145.3 L475.76,145.8 L475.84,146.3 L475.92,146.8 L476,147.3 L476.07,147.8 L476.13,148.3 L476.19,148.8 L476.25,149.3 L476.3,149.8 L476.34,150.3 L476.38,150.8 L476.42,151.3 L476.46,151.8 L476.5,152.3 L476.53,152.8 L476.56,153.3 L476.6,153.8 L476.63,154.3 L476.66,154.8 L476.68,155.3 L476.71,155.8 L476.73,156.3 L476.75,156.8 L476.77,157.3 L476.79,157.8 L476.8,158.3 L476.81,158.8 L476.82,159.3 L476.82,159.8 L476.82,160.3 L476.82,160.8 L476.82,161.3 L476.82,161.8 L476.82,162.3 L476.82,162.8 L476.82,163.3 L476.82,163.8 L476.82,164.3 L476.82,164.8 L476.82,165.3 L476.82,165.8 L476.82,166.3 L476.82,166.8 L476.82,167.3 L476.82,167.8 L476.82,168.3 L476.82,168.8 L476.82,169.3 L476.82,169.8 L476.82,170.3 L476.82,170.8 L476.82,171.3 L476.82,171.8 L476.82,172.3 L476.82,172.8 L476.82,173.3 L476.82,173.8 L476.82,174.3 L476.82,174.8 L476.82,175.3 L476.82,175.8 L476.82,176.3 L476.82,176.8 L476.82,177.3 L476.82,177.8 L476.82,178.3 L476.82,178.8 L476.82,179.3 L476.82,179.8 L476.82,180.3 L476.82,180.8 L476.82,181.3 L476.82,181.8 L476.82,182.3 L476.82,182.8 L476.82,183.3 L476.82,183.8 L476.82,184.3 L476.82,184.8 L476.82,185.3 L476.82,185.8 L476.82,186.3 L476.82,186.8 L476.82,187.3 L476.82,187.8 L476.82,188.3 L476.82,188.8 L476.82,189.3 L476.82,189.8 L476.82,190.3 L476.82,190.8 L476.82,191.3 L476.82,191.8 L476.82,192.3 L476.82,192.8 L476.82,193.3 L476.82,193.8 L476.82,194.3 L476.82,194.8 L476.82,195.3 L476.82,195.8 L476.82,196.3 L476.82,196.8 L476.82,197.3 L476.82,197.8 L476.82,198.3 L476.82,198.8 L476.82,199.3 L476.82,199.8 L476.82,200.3 L476.82,200.8 L476.82,201.3 L476.82,201.8 L476.82,202.3 L476.82,202.8 L476.83,203.3 L476.83,203.8 L476.83,204.3 L476.83,204.8 L476.83,205.3 L476.83,205.8 L476.83,206.3 L476.83,206.8 L476.84,207.3 L476.85,207.8 L476.87,208.3 L476.89,208.8 L476.92,209.3 L476.96,209.8 L476.99,210.3 L477.03,210.8 L477.07,211.3 L477.1,211.8 L477.12,212.2 L477.3,212.2Z" fill="#3274a1" stroke="#3d3d3d" stroke-width="1.45" stroke-linejoin="round"/><path d="M477.3,15.3 L477.48,15.3 L477.51,15.8 L477.54,16.3 L477.57,16.8 L477.61,17.3 L477.65,17.8 L477.68,18.3 L477.71,18.8 L477.74,19.3 L477.75,19.8 L477.76,20.3 L477.77,20.8 L477.77,21.3 L477.77,21.8 L477.77,22.3 L477.77,22.8 L477.77,23.3 L477.77,23.8 L477.78,24.3 L477.78,24.8 L477.78,25.3 L477.78,25.8 L477.78,26.3 L477.78,26.8 L477.78,27.3 L477.78,27.8 L477.78,28.3 L477.78,28.8 L477.78,29.3 L477.78,29.8 L477.78,30.3 L477.78,30.8 L477.78,31.3 L477.78,31.8 L477.78,32.3 L477.78,32.8 L477.78,33.3 L477.78,33.8 L477.78,34.3 L477.78,34.8 L477.78,35.3 L477.78,35.8 L477.78,36.3 L477.78,36.8 L477.78,37.3 L477.78,37.8 L477.78,38.3 L477.78,38.8 L477.78,39.3 L477.78,39.8 L477.78,40.3 L477.78,40.8 L477.78,41.3 L477.78,41.8 L477.78,42.3 L477.78,42.8 L477.78,43.3 L477.78,43.8 L477.78,44.3 L477.78,44.8 L477.78,45.3 L477.78,45.8 L477.78,46.3 L477.78,46.8 L477.78,47.3 L477.78,47.8 L477.78,48.3 L477.78,48.8 L477.78,49.3 L477.78,49.8 L477.78,50.3 L477.78,50.8 L477.78,51.3 L477.78,51.8 L477.78,52.3 L477.78,52.8 L477.78,53.3 L477.78,53.8 L477.78,54.3 L477.78,54.8 L477.78,55.3 L477.78,55.8 L477.78,56.3 L477.78,56.8 L477.78,57.3 L477.78,57.8 L477.78,58.3 L477.78,58.8 L477.78,59.3 L477.78,59.8 L477.78,60.3 L477.78,60.8 L477.78,61.3 L477.79,61.8 L477.8,62.3 L477.8,62.8 L477.81,63.3 L477.82,63.8 L477.84,64.3 L477.85,64.8 L477.87,65.3 L477.89,65.8 L477.9,66.3 L477.93,66.8 L477.95,67.3 L477.99,67.8 L478.03,68.3 L478.09,68.8 L478.17,69.3 L478.25,69.8 L478.34,70.3 L478.44,70.8 L478.54,71.3 L478.63,71.8 L478.73,72.3 L478.82,72.8 L478.89,73.3 L478.96,73.8 L479,74.3 L479.02,74.8 L479.02,75.3 L479,75.8 L478.97,76.3 L478.93,76.8 L478.88,77.3 L478.83,77.8 L478.79,78.3 L478.75,78.8 L478.72,79.3 L478.71,79.8 L478.71,80.3 L478.72,80.8 L478.75,81.3 L478.79,81.8 L478.84,82.3 L478.91,82.8 L478.98,83.3 L479.06,83.8 L479.14,84.3 L479.23,84.8 L479.32,85.3 L479.41,85.8 L479.5,86.3 L479.59,86.8 L479.68,87.3 L479.77,87.8 L479.84,88.3 L479.92,88.8 L479.98,89.3 L480.04,89.8 L480.09,90.3 L480.14,90.8 L480.18,91.3 L480.22,91.8 L480.26,92.3 L480.3,92.8 L480.33,93.3 L480.37,93.8 L480.4,94.3 L480.43,94.8 L480.47,95.3 L480.5,95.8 L480.53,96.3 L480.56,96.8 L480.59,97.3 L480.62,97.8 L480.66,98.3 L480.69,98.8 L480.73,99.3 L480.76,99.8 L480.8,100.3 L480.84,100.8 L480.87,101.3 L480.91,101.8 L480.95,102.3 L480.99,102.8 L481.02,103.3 L481.06,103.8 L481.1,104.3 L481.14,104.8 L481.18,105.3 L481.22,105.8 L481.26,106.3 L481.3,106.8 L481.34,107.3 L481.39,107.8 L481.43,108.3 L481.47,108.8 L481.51,109.3 L481.56,109.8 L481.6,110.3 L481.64,110.8 L481.68,111.3 L481.72,111.8 L481.76,112.3 L481.81,112.8 L481.85,113.3 L481.9,113.8 L481.96,114.3 L482.02,114.8 L482.09,115.3 L482.19,115.8 L482.3,116.3 L482.44,116.8 L482.6,117.3 L482.78,117.8 L482.98,118.3 L483.18,118.8 L483.4,119.3 L483.62,119.8 L483.88,120.3 L484.2,120.8 L484.64,121.3 L485.25,121.8 L486.07,122.3 L487.11,122.8 L488.29,123.3 L489.54,123.8 L490.78,124.3 L491.95,124.8 L493.06,125.3 L494.09,125.8 L495.05,126.3 L495.92,126.8 L496.68,127.3 L497.31,127.8 L497.79,128.3 L498.11,128.8 L498.27,129.3 L498.24,129.8 L498.01,130.3 L497.56,130.8 L496.9,131.3 L496.05,131.8 L495.06,132.3 L494.01,132.8 L492.95,133.3 L491.92,133.8 L490.92,134.3 L489.96,134.8 L489.02,135.3 L488.1,135.8 L487.22,136.3 L486.36,136.8 L485.56,137.3 L484.82,137.8 L484.15,138.3 L483.55,138.8 L483.01,139.3 L482.51,139.8 L482.06,140.3 L481.62,140.8 L481.21,141.3 L480.82,141.8 L480.45,142.3 L480.1,142.8 L479.79,143.3 L479.52,143.8 L479.3,144.3 L479.11,144.8 L478.96,145.3 L478.84,145.8 L478.74,146.3 L478.65,146.8 L478.57,147.3 L478.51,147.8 L478.44,148.3 L478.39,148.8 L478.34,149.3 L478.3,149.8 L478.25,150.3 L478.22,150.8 L478.18,151.3 L478.14,151.8 L478.1,152.3 L478.07,152.8 L478.04,153.3 L478,153.8 L477.97,154.3 L477.94,154.8 L477.92,155.3 L477.89,155.8 L477.87,156.3 L477.85,156.8 L477.83,157.3 L477.81,157.8 L477.8,158.3 L477.79,158.8 L477.78,159.3 L477.78,159.8 L477.78,160.3 L477.78,160.8 L477.78,161.3 L477.78,161.8 L477.78,162.3 L477.78,162.8 L477.78,163.3 L477.78,163.8 L477.78,164.3 L477.78,164.8 L477.78,165.3 L477.78,165.8 L477.78,166.3 L477.78,166.8 L477.78,167.3 L477.78,167.8 L477.78,168.3 L477.78,168.8 L477.78,169.3 L477.78,169.8 L477.78,170.3 L477.78,170.8 L477.78,171.3 L477.78,171.8 L477.78,172.3 L477.78,172.8 L477.78,173.3 L477.78,173.8 L477.78,174.3 L477.78,174.8 L477.78,175.3 L477.78,175.8 L477.78,176.3 L477.78,176.8 L477.78,177.3 L477.78,177.8 L477.78,178.3 L477.78,178.8 L477.78,179.3 L477.78,179.8 L477.78,180.3 L477.78,180.8 L477.78,181.3 L477.78,181.8 L477.78,182.3 L477.78,182.8 L477.78,183.3 L477.78,183.8 L477.78,184.3 L477.78,184.8 L477.78,185.3 L477.78,185.8 L477.78,186.3 L477.78,186.8 L477.78,187.3 L477.78,187.8 L477.78,188.3 L477.78,188.8 L477.78,189.3 L477.78,189.8 L477.78,190.3 L477.78,190.8 L477.78,191.3 L477.78,191.8 L477.78,192.3 L477.78,192.8 L477.78,193.3 L477.78,193.8 L477.78,194.3 L477.78,194.8 L477.78,195.3 L477.78,195.8 L477.78,196.3 L477.78,196.8 L477.78,197.3 L477.78,197.8 L477.78,198.3 L477.78,198.8 L477.78,199.3 L477.78,199.8 L477.78,200.3 L477.78,200.8 L477.78,201.3 L477.78,201.8 L477.78,202.3 L477.78,202.8 L477.77,203.3 L477.77,203.8 L477.77,204.3 L477.77,204.8 L477.77,205.3 L477.77,205.8 L477.77,206.3 L477.77,206.8 L477.76,207.3 L477.75,207.8 L477.73,208.3 L477.71,208.8 L477.68,209.3 L477.64,209.8 L477.61,210.3 L477.57,210.8 L477.53,211.3 L477.5,211.8 L477.48,212.2 L477.3,212.2Z" fill="#e1812c" stroke="#3d3d3d" stroke-width="1.45" stroke-linejoin="round"/><line x1="477.30" y1="110.00" x2="475.79" y2="110.00" stroke="#333" stroke-width="1.3" stroke-dasharray="1.2 0.95"/><line x1="477.30" y1="126.90" x2="460.30" y2="126.90" stroke="#333" stroke-width="1.3" stroke-dasharray="2.6 2.0"/><line x1="477.30" y1="130.80" x2="460.82" y2="130.80" stroke="#333" stroke-width="1.3" stroke-dasharray="1.2 0.95"/><line x1="477.30" y1="110.00" x2="481.21" y2="110.00" stroke="#333" stroke-width="1.3" stroke-dasharray="1.2 0.95"/><line x1="477.30" y1="127.00" x2="496.18" y2="127.00" stroke="#333" stroke-width="1.3" stroke-dasharray="2.6 2.0"/><line x1="477.30" y1="131.40" x2="496.95" y2="131.40" stroke="#333" stroke-width="1.3" stroke-dasharray="1.2 0.95"/><line x1="472.1" y1="120.1" x2="483.8" y2="118.8" stroke="#00f000" stroke-width="1.8" stroke-opacity="0.72"/><path d="M530.6,21.5 L530.42,21.5 L530.39,22 L530.36,22.5 L530.32,23 L530.29,23.5 L530.25,24 L530.21,24.5 L530.19,25 L530.16,25.5 L530.15,26 L530.14,26.5 L530.13,27 L530.13,27.5 L530.13,28 L530.13,28.5 L530.13,29 L530.13,29.5 L530.13,30 L530.12,30.5 L530.12,31 L530.12,31.5 L530.12,32 L530.12,32.5 L530.12,33 L530.12,33.5 L530.12,34 L530.12,34.5 L530.12,35 L530.12,35.5 L530.12,36 L530.12,36.5 L530.12,37 L530.12,37.5 L530.12,38 L530.12,38.5 L530.12,39 L530.12,39.5 L530.12,40 L530.12,40.5 L530.12,41 L530.12,41.5 L530.12,42 L530.12,42.5 L530.12,43 L530.12,43.5 L530.12,44 L530.12,44.5 L530.12,45 L530.12,45.5 L530.12,46 L530.12,46.5 L530.12,47 L530.12,47.5 L530.12,48 L530.12,48.5 L530.12,49 L530.12,49.5 L530.12,50 L530.12,50.5 L530.12,51 L530.12,51.5 L530.12,52 L530.12,52.5 L530.12,53 L530.12,53.5 L530.12,54 L530.12,54.5 L530.12,55 L530.12,55.5 L530.12,56 L530.12,56.5 L530.12,57 L530.12,57.5 L530.12,58 L530.12,58.5 L530.12,59 L530.12,59.5 L530.12,60 L530.12,60.5 L530.12,61 L530.12,61.5 L530.11,62 L530.11,62.5 L530.1,63 L530.1,63.5 L530.09,64 L530.08,64.5 L530.07,65 L530.06,65.5 L530.05,66 L530.04,66.5 L530.03,67 L530.02,67.5 L530.01,68 L530,68.5 L529.98,69 L529.97,69.5 L529.96,70 L529.94,70.5 L529.93,71 L529.92,71.5 L529.9,72 L529.89,72.5 L529.88,73 L529.86,73.5 L529.85,74 L529.84,74.5 L529.82,75 L529.81,75.5 L529.8,76 L529.79,76.5 L529.78,77 L529.77,77.5 L529.76,78 L529.75,78.5 L529.74,79 L529.73,79.5 L529.73,80 L529.72,80.5 L529.71,81 L529.71,81.5 L529.71,82 L529.7,82.5 L529.7,83 L529.69,83.5 L529.69,84 L529.69,84.5 L529.68,85 L529.68,85.5 L529.68,86 L529.67,86.5 L529.67,87 L529.66,87.5 L529.65,88 L529.65,88.5 L529.64,89 L529.63,89.5 L529.61,90 L529.59,90.5 L529.57,91 L529.53,91.5 L529.49,92 L529.45,92.5 L529.39,93 L529.34,93.5 L529.28,94 L529.21,94.5 L529.15,95 L529.09,95.5 L529.02,96 L528.96,96.5 L528.89,97 L528.82,97.5 L528.75,98 L528.68,98.5 L528.6,99 L528.52,99.5 L528.44,100 L528.36,100.5 L528.27,101 L528.19,101.5 L528.1,102 L528.02,102.5 L527.93,103 L527.83,103.5 L527.74,104 L527.64,104.5 L527.55,105 L527.45,105.5 L527.35,106 L527.26,106.5 L527.16,107 L527.07,107.5 L526.97,108 L526.88,108.5 L526.79,109 L526.69,109.5 L526.6,110 L526.51,110.5 L526.42,111 L526.33,111.5 L526.23,112 L526.14,112.5 L526.04,113 L525.94,113.5 L525.84,114 L525.73,114.5 L525.63,115 L525.52,115.5 L525.41,116 L525.3,116.5 L525.19,117 L525.08,117.5 L524.96,118 L524.85,118.5 L524.74,119 L524.63,119.5 L524.52,120 L524.41,120.5 L524.3,121 L524.2,121.5 L524.1,122 L524.01,122.5 L523.93,123 L523.85,123.5 L523.79,124 L523.74,124.5 L523.7,125 L523.67,125.5 L523.66,126 L523.67,126.5 L523.69,127 L523.72,127.5 L523.76,128 L523.81,128.5 L523.87,129 L523.94,129.5 L524.02,130 L524.11,130.5 L524.19,131 L524.28,131.5 L524.36,132 L524.43,132.5 L524.5,133 L524.57,133.5 L524.65,134 L524.73,134.5 L524.81,135 L524.9,135.5 L525,136 L525.11,136.5 L525.22,137 L525.33,137.5 L525.44,138 L525.56,138.5 L525.68,139 L525.81,139.5 L525.94,140 L526.08,140.5 L526.22,141 L526.36,141.5 L526.49,142 L526.62,142.5 L526.74,143 L526.86,143.5 L526.96,144 L527.07,144.5 L527.2,145 L527.34,145.5 L527.5,146 L527.69,146.5 L527.91,147 L528.12,147.5 L528.34,148 L528.53,148.5 L528.71,149 L528.86,149.5 L528.99,150 L529.11,150.5 L529.2,151 L529.28,151.5 L529.35,152 L529.4,152.5 L529.44,153 L529.48,153.5 L529.52,154 L529.55,154.5 L529.58,155 L529.61,155.5 L529.63,156 L529.66,156.5 L529.68,157 L529.7,157.5 L529.73,158 L529.75,158.5 L529.77,159 L529.79,159.5 L529.82,160 L529.84,160.5 L529.86,161 L529.89,161.5 L529.91,162 L529.93,162.5 L529.95,163 L529.97,163.5 L529.99,164 L530.01,164.5 L530.03,165 L530.04,165.5 L530.06,166 L530.07,166.5 L530.08,167 L530.1,167.5 L530.1,168 L530.11,168.5 L530.12,169 L530.12,169.5 L530.12,170 L530.12,170.5 L530.12,171 L530.12,171.5 L530.12,172 L530.12,172.5 L530.12,173 L530.12,173.5 L530.12,174 L530.12,174.5 L530.12,175 L530.12,175.5 L530.12,176 L530.12,176.5 L530.12,177 L530.12,177.5 L530.12,178 L530.12,178.5 L530.12,179 L530.12,179.5 L530.12,180 L530.12,180.5 L530.12,181 L530.12,181.5 L530.12,182 L530.12,182.5 L530.12,183 L530.12,183.5 L530.12,184 L530.12,184.5 L530.12,185 L530.12,185.5 L530.12,186 L530.12,186.5 L530.12,187 L530.12,187.5 L530.12,188 L530.12,188.5 L530.12,189 L530.12,189.5 L530.12,190 L530.12,190.5 L530.12,191 L530.12,191.5 L530.12,192 L530.12,192.5 L530.12,193 L530.12,193.5 L530.12,194 L530.12,194.5 L530.12,195 L530.12,195.5 L530.12,196 L530.12,196.5 L530.12,197 L530.12,197.5 L530.12,198 L530.12,198.5 L530.12,199 L530.12,199.5 L530.12,200 L530.12,200.5 L530.12,201 L530.12,201.5 L530.12,202 L530.12,202.5 L530.12,203 L530.12,203.5 L530.12,204 L530.12,204.5 L530.12,205 L530.12,205.5 L530.12,206 L530.12,206.5 L530.12,207 L530.12,207.5 L530.12,208 L530.12,208.5 L530.13,209 L530.13,209.5 L530.13,210 L530.13,210.5 L530.13,211 L530.13,211.5 L530.13,212 L530.14,212.5 L530.15,213 L530.16,213.5 L530.19,214 L530.21,214.5 L530.25,215 L530.29,215.5 L530.32,216 L530.36,216.5 L530.39,217 L530.42,217.5 L530.6,217.5Z" fill="#3274a1" stroke="#3d3d3d" stroke-width="1.45" stroke-linejoin="round"/><path d="M530.6,21.5 L530.78,21.5 L530.81,22 L530.84,22.5 L530.88,23 L530.91,23.5 L530.95,24 L530.99,24.5 L531.01,25 L531.04,25.5 L531.05,26 L531.06,26.5 L531.07,27 L531.07,27.5 L531.07,28 L531.07,28.5 L531.07,29 L531.07,29.5 L531.07,30 L531.08,30.5 L531.08,31 L531.08,31.5 L531.08,32 L531.08,32.5 L531.08,33 L531.08,33.5 L531.08,34 L531.08,34.5 L531.08,35 L531.08,35.5 L531.08,36 L531.08,36.5 L531.08,37 L531.08,37.5 L531.08,38 L531.08,38.5 L531.08,39 L531.08,39.5 L531.08,40 L531.08,40.5 L531.08,41 L531.08,41.5 L531.08,42 L531.08,42.5 L531.08,43 L531.08,43.5 L531.08,44 L531.08,44.5 L531.08,45 L531.08,45.5 L531.08,46 L531.08,46.5 L531.08,47 L531.08,47.5 L531.08,48 L531.08,48.5 L531.08,49 L531.08,49.5 L531.08,50 L531.08,50.5 L531.08,51 L531.08,51.5 L531.08,52 L531.08,52.5 L531.08,53 L531.08,53.5 L531.08,54 L531.08,54.5 L531.08,55 L531.08,55.5 L531.08,56 L531.08,56.5 L531.08,57 L531.08,57.5 L531.08,58 L531.08,58.5 L531.08,59 L531.08,59.5 L531.08,60 L531.08,60.5 L531.08,61 L531.08,61.5 L531.08,62 L531.08,62.5 L531.09,63 L531.09,63.5 L531.09,64 L531.1,64.5 L531.1,65 L531.11,65.5 L531.12,66 L531.12,66.5 L531.13,67 L531.14,67.5 L531.15,68 L531.16,68.5 L531.17,69 L531.18,69.5 L531.19,70 L531.2,70.5 L531.21,71 L531.22,71.5 L531.23,72 L531.24,72.5 L531.26,73 L531.27,73.5 L531.28,74 L531.3,74.5 L531.31,75 L531.33,75.5 L531.34,76 L531.36,76.5 L531.37,77 L531.39,77.5 L531.41,78 L531.42,78.5 L531.44,79 L531.46,79.5 L531.48,80 L531.51,80.5 L531.54,81 L531.57,81.5 L531.61,82 L531.65,82.5 L531.7,83 L531.75,83.5 L531.81,84 L531.87,84.5 L531.92,85 L531.98,85.5 L532.04,86 L532.1,86.5 L532.16,87 L532.22,87.5 L532.28,88 L532.33,88.5 L532.38,89 L532.42,89.5 L532.47,90 L532.5,90.5 L532.54,91 L532.57,91.5 L532.6,92 L532.63,92.5 L532.66,93 L532.69,93.5 L532.72,94 L532.76,94.5 L532.8,95 L532.84,95.5 L532.89,96 L532.95,96.5 L533.02,97 L533.1,97.5 L533.19,98 L533.29,98.5 L533.39,99 L533.5,99.5 L533.62,100 L533.73,100.5 L533.86,101 L533.98,101.5 L534.11,102 L534.24,102.5 L534.38,103 L534.52,103.5 L534.67,104 L534.82,104.5 L534.98,105 L535.14,105.5 L535.3,106 L535.47,106.5 L535.64,107 L535.81,107.5 L535.99,108 L536.16,108.5 L536.34,109 L536.53,109.5 L536.72,110 L536.91,110.5 L537.1,111 L537.29,111.5 L537.48,112 L537.66,112.5 L537.85,113 L538.03,113.5 L538.21,114 L538.39,114.5 L538.56,115 L538.73,115.5 L538.9,116 L539.07,116.5 L539.24,117 L539.41,117.5 L539.58,118 L539.75,118.5 L539.93,119 L540.11,119.5 L540.29,120 L540.48,120.5 L540.67,121 L540.86,121.5 L541.04,122 L541.22,122.5 L541.38,123 L541.53,123.5 L541.66,124 L541.79,124.5 L541.89,125 L541.98,125.5 L542.06,126 L542.12,126.5 L542.17,127 L542.2,127.5 L542.22,128 L542.23,128.5 L542.21,129 L542.18,129.5 L542.11,130 L542.02,130.5 L541.91,131 L541.78,131.5 L541.63,132 L541.45,132.5 L541.24,133 L541.01,133.5 L540.77,134 L540.52,134.5 L540.26,135 L539.99,135.5 L539.72,136 L539.44,136.5 L539.16,137 L538.88,137.5 L538.6,138 L538.32,138.5 L538.04,139 L537.76,139.5 L537.48,140 L537.2,140.5 L536.91,141 L536.63,141.5 L536.33,142 L536.02,142.5 L535.7,143 L535.37,143.5 L535.02,144 L534.69,144.5 L534.36,145 L534.06,145.5 L533.78,146 L533.53,146.5 L533.3,147 L533.1,147.5 L532.9,148 L532.73,148.5 L532.56,149 L532.4,149.5 L532.26,150 L532.13,150.5 L532.02,151 L531.93,151.5 L531.86,152 L531.8,152.5 L531.75,153 L531.71,153.5 L531.68,154 L531.65,154.5 L531.62,155 L531.59,155.5 L531.57,156 L531.54,156.5 L531.52,157 L531.5,157.5 L531.47,158 L531.45,158.5 L531.43,159 L531.41,159.5 L531.38,160 L531.36,160.5 L531.34,161 L531.31,161.5 L531.29,162 L531.27,162.5 L531.25,163 L531.23,163.5 L531.21,164 L531.19,164.5 L531.17,165 L531.16,165.5 L531.14,166 L531.13,166.5 L531.12,167 L531.1,167.5 L531.1,168 L531.09,168.5 L531.08,169 L531.08,169.5 L531.08,170 L531.08,170.5 L531.08,171 L531.08,171.5 L531.08,172 L531.08,172.5 L531.08,173 L531.08,173.5 L531.08,174 L531.08,174.5 L531.08,175 L531.08,175.5 L531.08,176 L531.08,176.5 L531.08,177 L531.08,177.5 L531.08,178 L531.08,178.5 L531.08,179 L531.08,179.5 L531.08,180 L531.08,180.5 L531.08,181 L531.08,181.5 L531.08,182 L531.08,182.5 L531.08,183 L531.08,183.5 L531.08,184 L531.08,184.5 L531.08,185 L531.08,185.5 L531.08,186 L531.08,186.5 L531.08,187 L531.08,187.5 L531.08,188 L531.08,188.5 L531.08,189 L531.08,189.5 L531.08,190 L531.08,190.5 L531.08,191 L531.08,191.5 L531.08,192 L531.08,192.5 L531.08,193 L531.08,193.5 L531.08,194 L531.08,194.5 L531.08,195 L531.08,195.5 L531.08,196 L531.08,196.5 L531.08,197 L531.08,197.5 L531.08,198 L531.08,198.5 L531.08,199 L531.08,199.5 L531.08,200 L531.08,200.5 L531.08,201 L531.08,201.5 L531.08,202 L531.08,202.5 L531.08,203 L531.08,203.5 L531.08,204 L531.08,204.5 L531.08,205 L531.08,205.5 L531.08,206 L531.08,206.5 L531.08,207 L531.08,207.5 L531.08,208 L531.08,208.5 L531.07,209 L531.07,209.5 L531.07,210 L531.07,210.5 L531.07,211 L531.07,211.5 L531.07,212 L531.06,212.5 L531.05,213 L531.04,213.5 L531.01,214 L530.99,214.5 L530.95,215 L530.91,215.5 L530.88,216 L530.84,216.5 L530.81,217 L530.78,217.5 L530.6,217.5Z" fill="#e1812c" stroke="#3d3d3d" stroke-width="1.45" stroke-linejoin="round"/><line x1="530.60" y1="113.20" x2="526.37" y2="113.20" stroke="#333" stroke-width="1.3" stroke-dasharray="1.2 0.95"/><line x1="530.60" y1="125.30" x2="524.01" y2="125.30" stroke="#333" stroke-width="1.3" stroke-dasharray="2.6 2.0"/><line x1="530.60" y1="134.80" x2="525.12" y2="134.80" stroke="#333" stroke-width="1.3" stroke-dasharray="1.2 0.95"/><line x1="530.60" y1="113.20" x2="537.57" y2="113.20" stroke="#333" stroke-width="1.3" stroke-dasharray="1.2 0.95"/><line x1="530.60" y1="125.30" x2="541.63" y2="125.30" stroke="#333" stroke-width="1.3" stroke-dasharray="2.6 2.0"/><line x1="530.60" y1="134.80" x2="540.01" y2="134.80" stroke="#333" stroke-width="1.3" stroke-dasharray="1.2 0.95"/><line x1="524.5" y1="123.0" x2="536.2" y2="123.2" stroke="#00f000" stroke-width="1.8" stroke-opacity="0.72"/><path d="M584.05,16.2 L583.87,16.2 L583.84,16.7 L583.81,17.2 L583.78,17.7 L583.74,18.2 L583.7,18.7 L583.67,19.2 L583.64,19.7 L583.61,20.2 L583.6,20.7 L583.59,21.2 L583.58,21.7 L583.58,22.2 L583.58,22.7 L583.58,23.2 L583.58,23.7 L583.58,24.2 L583.58,24.7 L583.57,25.2 L583.57,25.7 L583.57,26.2 L583.57,26.7 L583.57,27.2 L583.57,27.7 L583.57,28.2 L583.57,28.7 L583.57,29.2 L583.57,29.7 L583.57,30.2 L583.57,30.7 L583.57,31.2 L583.57,31.7 L583.57,32.2 L583.57,32.7 L583.57,33.2 L583.57,33.7 L583.57,34.2 L583.57,34.7 L583.57,35.2 L583.57,35.7 L583.57,36.2 L583.57,36.7 L583.57,37.2 L583.57,37.7 L583.57,38.2 L583.57,38.7 L583.57,39.2 L583.57,39.7 L583.57,40.2 L583.57,40.7 L583.57,41.2 L583.57,41.7 L583.57,42.2 L583.57,42.7 L583.57,43.2 L583.57,43.7 L583.57,44.2 L583.57,44.7 L583.57,45.2 L583.57,45.7 L583.57,46.2 L583.57,46.7 L583.57,47.2 L583.57,47.7 L583.57,48.2 L583.57,48.7 L583.57,49.2 L583.57,49.7 L583.57,50.2 L583.57,50.7 L583.57,51.2 L583.57,51.7 L583.57,52.2 L583.57,52.7 L583.57,53.2 L583.57,53.7 L583.57,54.2 L583.57,54.7 L583.57,55.2 L583.57,55.7 L583.57,56.2 L583.57,56.7 L583.57,57.2 L583.57,57.7 L583.57,58.2 L583.57,58.7 L583.57,59.2 L583.57,59.7 L583.57,60.2 L583.57,60.7 L583.57,61.2 L583.57,61.7 L583.57,62.2 L583.56,62.7 L583.56,63.2 L583.56,63.7 L583.55,64.2 L583.54,64.7 L583.54,65.2 L583.53,65.7 L583.52,66.2 L583.52,66.7 L583.51,67.2 L583.5,67.7 L583.49,68.2 L583.48,68.7 L583.47,69.2 L583.46,69.7 L583.45,70.2 L583.44,70.7 L583.43,71.2 L583.42,71.7 L583.41,72.2 L583.4,72.7 L583.39,73.2 L583.37,73.7 L583.36,74.2 L583.35,74.7 L583.34,75.2 L583.33,75.7 L583.31,76.2 L583.3,76.7 L583.29,77.2 L583.28,77.7 L583.27,78.2 L583.26,78.7 L583.24,79.2 L583.23,79.7 L583.22,80.2 L583.21,80.7 L583.2,81.2 L583.18,81.7 L583.17,82.2 L583.16,82.7 L583.14,83.2 L583.13,83.7 L583.12,84.2 L583.1,84.7 L583.09,85.2 L583.07,85.7 L583.06,86.2 L583.04,86.7 L583.02,87.2 L583.01,87.7 L582.99,88.2 L582.97,88.7 L582.95,89.2 L582.94,89.7 L582.92,90.2 L582.9,90.7 L582.88,91.2 L582.86,91.7 L582.84,92.2 L582.82,92.7 L582.79,93.2 L582.77,93.7 L582.74,94.2 L582.71,94.7 L582.67,95.2 L582.63,95.7 L582.59,96.2 L582.53,96.7 L582.46,97.2 L582.38,97.7 L582.29,98.2 L582.2,98.7 L582.09,99.2 L581.99,99.7 L581.88,100.2 L581.78,100.7 L581.67,101.2 L581.57,101.7 L581.47,102.2 L581.38,102.7 L581.29,103.2 L581.2,103.7 L581.1,104.2 L581.01,104.7 L580.92,105.2 L580.82,105.7 L580.73,106.2 L580.63,106.7 L580.52,107.2 L580.41,107.7 L580.3,108.2 L580.19,108.7 L580.06,109.2 L579.94,109.7 L579.81,110.2 L579.68,110.7 L579.55,111.2 L579.42,111.7 L579.29,112.2 L579.16,112.7 L579.03,113.2 L578.9,113.7 L578.78,114.2 L578.65,114.7 L578.53,115.2 L578.41,115.7 L578.28,116.2 L578.16,116.7 L578.04,117.2 L577.93,117.7 L577.81,118.2 L577.7,118.7 L577.59,119.2 L577.49,119.7 L577.38,120.2 L577.28,120.7 L577.18,121.2 L577.1,121.7 L577.03,122.2 L576.98,122.7 L576.95,123.2 L576.94,123.7 L576.93,124.2 L576.93,124.7 L576.93,125.2 L576.95,125.7 L576.97,126.2 L577.02,126.7 L577.07,127.2 L577.14,127.7 L577.22,128.2 L577.31,128.7 L577.4,129.2 L577.5,129.7 L577.6,130.2 L577.71,130.7 L577.82,131.2 L577.93,131.7 L578.05,132.2 L578.16,132.7 L578.28,133.2 L578.4,133.7 L578.53,134.2 L578.65,134.7 L578.76,135.2 L578.88,135.7 L579,136.2 L579.12,136.7 L579.23,137.2 L579.35,137.7 L579.47,138.2 L579.59,138.7 L579.71,139.2 L579.83,139.7 L579.95,140.2 L580.07,140.7 L580.19,141.2 L580.31,141.7 L580.43,142.2 L580.54,142.7 L580.65,143.2 L580.75,143.7 L580.85,144.2 L580.94,144.7 L581.03,145.2 L581.11,145.7 L581.19,146.2 L581.27,146.7 L581.34,147.2 L581.41,147.7 L581.48,148.2 L581.55,148.7 L581.62,149.2 L581.68,149.7 L581.75,150.2 L581.81,150.7 L581.88,151.2 L581.94,151.7 L582,152.2 L582.06,152.7 L582.13,153.2 L582.19,153.7 L582.24,154.2 L582.3,154.7 L582.36,155.2 L582.41,155.7 L582.47,156.2 L582.52,156.7 L582.57,157.2 L582.62,157.7 L582.67,158.2 L582.71,158.7 L582.76,159.2 L582.8,159.7 L582.84,160.2 L582.88,160.7 L582.92,161.2 L582.96,161.7 L583,162.2 L583.03,162.7 L583.07,163.2 L583.11,163.7 L583.14,164.2 L583.18,164.7 L583.21,165.2 L583.24,165.7 L583.27,166.2 L583.3,166.7 L583.32,167.2 L583.35,167.7 L583.37,168.2 L583.39,168.7 L583.4,169.2 L583.41,169.7 L583.43,170.2 L583.44,170.7 L583.44,171.2 L583.45,171.7 L583.46,172.2 L583.47,172.7 L583.47,173.2 L583.48,173.7 L583.48,174.2 L583.49,174.7 L583.49,175.2 L583.5,175.7 L583.5,176.2 L583.51,176.7 L583.51,177.2 L583.51,177.7 L583.52,178.2 L583.52,178.7 L583.52,179.2 L583.52,179.7 L583.53,180.2 L583.53,180.7 L583.53,181.2 L583.53,181.7 L583.53,182.2 L583.53,182.7 L583.53,183.2 L583.53,183.7 L583.53,184.2 L583.54,184.7 L583.54,185.2 L583.54,185.7 L583.54,186.2 L583.54,186.7 L583.54,187.2 L583.54,187.7 L583.54,188.2 L583.54,188.7 L583.54,189.2 L583.54,189.7 L583.54,190.2 L583.54,190.7 L583.54,191.2 L583.54,191.7 L583.54,192.2 L583.54,192.7 L583.54,193.2 L583.54,193.7 L583.54,194.2 L583.55,194.7 L583.55,195.2 L583.55,195.7 L583.55,196.2 L583.55,196.7 L583.55,197.2 L583.55,197.7 L583.55,198.2 L583.55,198.7 L583.55,199.2 L583.55,199.7 L583.55,200.2 L583.55,200.7 L583.55,201.2 L583.55,201.7 L583.55,202.2 L583.55,202.7 L583.55,203.2 L583.55,203.7 L583.55,204.2 L583.55,204.7 L583.55,205.2 L583.55,205.7 L583.55,206.2 L583.55,206.7 L583.55,207.2 L583.55,207.7 L583.56,208.2 L583.56,208.7 L583.56,209.2 L583.56,209.7 L583.56,210.2 L583.56,210.7 L583.56,211.2 L583.56,211.7 L583.56,212.2 L583.56,212.7 L583.57,213.2 L583.57,213.7 L583.57,214.2 L583.57,214.7 L583.57,215.2 L583.58,215.7 L583.59,216.2 L583.6,216.7 L583.62,217.2 L583.64,217.7 L583.67,218.2 L583.71,218.7 L583.75,219.2 L583.78,219.7 L583.82,220.2 L583.85,220.7 L583.87,221.1 L584.05,221.1Z" fill="#3274a1" stroke="#3d3d3d" stroke-width="1.45" stroke-linejoin="round"/><path d="M584.05,16.2 L584.23,16.2 L584.26,16.7 L584.29,17.2 L584.32,17.7 L584.36,18.2 L584.4,18.7 L584.43,19.2 L584.46,19.7 L584.49,20.2 L584.5,20.7 L584.51,21.2 L584.52,21.7 L584.52,22.2 L584.52,22.7 L584.52,23.2 L584.52,23.7 L584.52,24.2 L584.52,24.7 L584.52,25.2 L584.52,25.7 L584.52,26.2 L584.52,26.7 L584.52,27.2 L584.52,27.7 L584.52,28.2 L584.52,28.7 L584.52,29.2 L584.52,29.7 L584.52,30.2 L584.52,30.7 L584.52,31.2 L584.52,31.7 L584.52,32.2 L584.52,32.7 L584.52,33.2 L584.52,33.7 L584.52,34.2 L584.52,34.7 L584.52,35.2 L584.52,35.7 L584.52,36.2 L584.52,36.7 L584.52,37.2 L584.52,37.7 L584.52,38.2 L584.52,38.7 L584.52,39.2 L584.52,39.7 L584.52,40.2 L584.52,40.7 L584.52,41.2 L584.52,41.7 L584.52,42.2 L584.52,42.7 L584.52,43.2 L584.52,43.7 L584.52,44.2 L584.52,44.7 L584.52,45.2 L584.52,45.7 L584.52,46.2 L584.52,46.7 L584.52,47.2 L584.52,47.7 L584.52,48.2 L584.52,48.7 L584.52,49.2 L584.52,49.7 L584.52,50.2 L584.52,50.7 L584.52,51.2 L584.52,51.7 L584.52,52.2 L584.52,52.7 L584.52,53.2 L584.52,53.7 L584.52,54.2 L584.52,54.7 L584.52,55.2 L584.52,55.7 L584.53,56.2 L584.53,56.7 L584.53,57.2 L584.53,57.7 L584.53,58.2 L584.53,58.7 L584.53,59.2 L584.53,59.7 L584.53,60.2 L584.53,60.7 L584.53,61.2 L584.53,61.7 L584.53,62.2 L584.53,62.7 L584.54,63.2 L584.54,63.7 L584.55,64.2 L584.55,64.7 L584.56,65.2 L584.56,65.7 L584.57,66.2 L584.57,66.7 L584.58,67.2 L584.59,67.7 L584.6,68.2 L584.61,68.7 L584.61,69.2 L584.62,69.7 L584.63,70.2 L584.64,70.7 L584.65,71.2 L584.66,71.7 L584.67,72.2 L584.68,72.7 L584.7,73.2 L584.71,73.7 L584.72,74.2 L584.73,74.7 L584.74,75.2 L584.76,75.7 L584.77,76.2 L584.78,76.7 L584.8,77.2 L584.81,77.7 L584.82,78.2 L584.84,78.7 L584.85,79.2 L584.87,79.7 L584.88,80.2 L584.9,80.7 L584.92,81.2 L584.94,81.7 L584.96,82.2 L584.98,82.7 L585.01,83.2 L585.04,83.7 L585.06,84.2 L585.09,84.7 L585.12,85.2 L585.16,85.7 L585.19,86.2 L585.22,86.7 L585.26,87.2 L585.3,87.7 L585.33,88.2 L585.37,88.7 L585.41,89.2 L585.45,89.7 L585.49,90.2 L585.54,90.7 L585.58,91.2 L585.63,91.7 L585.68,92.2 L585.74,92.7 L585.79,93.2 L585.85,93.7 L585.92,94.2 L585.99,94.7 L586.06,95.2 L586.14,95.7 L586.23,96.2 L586.32,96.7 L586.43,97.2 L586.55,97.7 L586.67,98.2 L586.81,98.7 L586.95,99.2 L587.09,99.7 L587.24,100.2 L587.4,100.7 L587.56,101.2 L587.72,101.7 L587.88,102.2 L588.06,102.7 L588.23,103.2 L588.42,103.7 L588.61,104.2 L588.8,104.7 L588.99,105.2 L589.19,105.7 L589.39,106.2 L589.58,106.7 L589.78,107.2 L589.97,107.7 L590.16,108.2 L590.35,108.7 L590.54,109.2 L590.72,109.7 L590.91,110.2 L591.1,110.7 L591.28,111.2 L591.47,111.7 L591.65,112.2 L591.84,112.7 L592.03,113.2 L592.22,113.7 L592.4,114.2 L592.6,114.7 L592.79,115.2 L592.98,115.7 L593.17,116.2 L593.36,116.7 L593.55,117.2 L593.74,117.7 L593.93,118.2 L594.11,118.7 L594.3,119.2 L594.48,119.7 L594.66,120.2 L594.84,120.7 L595.01,121.2 L595.16,121.7 L595.29,122.2 L595.37,122.7 L595.43,123.2 L595.46,123.7 L595.47,124.2 L595.47,124.7 L595.46,125.2 L595.44,125.7 L595.39,126.2 L595.32,126.7 L595.22,127.2 L595.1,127.7 L594.94,128.2 L594.76,128.7 L594.56,129.2 L594.33,129.7 L594.09,130.2 L593.83,130.7 L593.56,131.2 L593.29,131.7 L593.02,132.2 L592.76,132.7 L592.5,133.2 L592.24,133.7 L591.99,134.2 L591.74,134.7 L591.5,135.2 L591.26,135.7 L591.03,136.2 L590.79,136.7 L590.55,137.2 L590.3,137.7 L590.05,138.2 L589.79,138.7 L589.53,139.2 L589.28,139.7 L589.05,140.2 L588.84,140.7 L588.65,141.2 L588.47,141.7 L588.31,142.2 L588.15,142.7 L588.01,143.2 L587.86,143.7 L587.72,144.2 L587.57,144.7 L587.43,145.2 L587.29,145.7 L587.15,146.2 L587.02,146.7 L586.88,147.2 L586.76,147.7 L586.64,148.2 L586.53,148.7 L586.43,149.2 L586.34,149.7 L586.26,150.2 L586.18,150.7 L586.11,151.2 L586.05,151.7 L585.99,152.2 L585.93,152.7 L585.87,153.2 L585.82,153.7 L585.77,154.2 L585.72,154.7 L585.67,155.2 L585.62,155.7 L585.58,156.2 L585.54,156.7 L585.49,157.2 L585.45,157.7 L585.41,158.2 L585.37,158.7 L585.34,159.2 L585.3,159.7 L585.26,160.2 L585.22,160.7 L585.18,161.2 L585.15,161.7 L585.11,162.2 L585.07,162.7 L585.04,163.2 L585,163.7 L584.97,164.2 L584.93,164.7 L584.9,165.2 L584.87,165.7 L584.84,166.2 L584.81,166.7 L584.79,167.2 L584.76,167.7 L584.74,168.2 L584.72,168.7 L584.7,169.2 L584.69,169.7 L584.67,170.2 L584.66,170.7 L584.65,171.2 L584.64,171.7 L584.63,172.2 L584.61,172.7 L584.6,173.2 L584.59,173.7 L584.58,174.2 L584.58,174.7 L584.57,175.2 L584.56,175.7 L584.55,176.2 L584.55,176.7 L584.54,177.2 L584.54,177.7 L584.53,178.2 L584.53,178.7 L584.53,179.2 L584.53,179.7 L584.53,180.2 L584.53,180.7 L584.53,181.2 L584.53,181.7 L584.53,182.2 L584.53,182.7 L584.53,183.2 L584.53,183.7 L584.52,184.2 L584.52,184.7 L584.52,185.2 L584.52,185.7 L584.52,186.2 L584.52,186.7 L584.52,187.2 L584.52,187.7 L584.52,188.2 L584.52,188.7 L584.52,189.2 L584.52,189.7 L584.52,190.2 L584.52,190.7 L584.52,191.2 L584.52,191.7 L584.52,192.2 L584.52,192.7 L584.52,193.2 L584.52,193.7 L584.52,194.2 L584.52,194.7 L584.52,195.2 L584.52,195.7 L584.52,196.2 L584.52,196.7 L584.52,197.2 L584.52,197.7 L584.52,198.2 L584.52,198.7 L584.52,199.2 L584.52,199.7 L584.52,200.2 L584.52,200.7 L584.52,201.2 L584.52,201.7 L584.52,202.2 L584.52,202.7 L584.52,203.2 L584.52,203.7 L584.52,204.2 L584.52,204.7 L584.52,205.2 L584.52,205.7 L584.52,206.2 L584.52,206.7 L584.52,207.2 L584.52,207.7 L584.52,208.2 L584.52,208.7 L584.52,209.2 L584.52,209.7 L584.52,210.2 L584.52,210.7 L584.52,211.2 L584.52,211.7 L584.52,212.2 L584.52,212.7 L584.52,213.2 L584.52,213.7 L584.52,214.2 L584.52,214.7 L584.52,215.2 L584.52,215.7 L584.51,216.2 L584.5,216.7 L584.48,217.2 L584.46,217.7 L584.43,218.2 L584.39,218.7 L584.36,219.2 L584.32,219.7 L584.28,220.2 L584.25,220.7 L584.23,221.1 L584.05,221.1Z" fill="#e1812c" stroke="#3d3d3d" stroke-width="1.45" stroke-linejoin="round"/><line x1="584.05" y1="113.20" x2="579.39" y2="113.20" stroke="#333" stroke-width="1.3" stroke-dasharray="1.2 0.95"/><line x1="584.05" y1="123.30" x2="577.29" y2="123.30" stroke="#333" stroke-width="1.3" stroke-dasharray="2.6 2.0"/><line x1="584.05" y1="134.30" x2="578.92" y2="134.30" stroke="#333" stroke-width="1.3" stroke-dasharray="1.2 0.95"/><line x1="584.05" y1="113.20" x2="591.66" y2="113.20" stroke="#333" stroke-width="1.3" stroke-dasharray="1.2 0.95"/><line x1="584.05" y1="123.30" x2="595.11" y2="123.30" stroke="#333" stroke-width="1.3" stroke-dasharray="2.6 2.0"/><line x1="584.05" y1="134.30" x2="591.56" y2="134.30" stroke="#333" stroke-width="1.3" stroke-dasharray="1.2 0.95"/><line x1="577.9" y1="123.3" x2="589.2" y2="123.3" stroke="#00f000" stroke-width="1.8" stroke-opacity="0.72"/><path d="M637.2,26.6 L637.02,26.6 L636.99,27.1 L636.96,27.6 L636.92,28.1 L636.88,28.6 L636.85,29.1 L636.81,29.6 L636.78,30.1 L636.76,30.6 L636.75,31.1 L636.73,31.6 L636.73,32.1 L636.73,32.6 L636.73,33.1 L636.73,33.6 L636.73,34.1 L636.73,34.6 L636.73,35.1 L636.73,35.6 L636.73,36.1 L636.73,36.6 L636.73,37.1 L636.73,37.6 L636.73,38.1 L636.73,38.6 L636.73,39.1 L636.73,39.6 L636.73,40.1 L636.73,40.6 L636.73,41.1 L636.73,41.6 L636.73,42.1 L636.73,42.6 L636.73,43.1 L636.73,43.6 L636.73,44.1 L636.73,44.6 L636.73,45.1 L636.73,45.6 L636.73,46.1 L636.73,46.6 L636.73,47.1 L636.73,47.6 L636.73,48.1 L636.73,48.6 L636.73,49.1 L636.73,49.6 L636.73,50.1 L636.73,50.6 L636.73,51.1 L636.73,51.6 L636.73,52.1 L636.73,52.6 L636.73,53.1 L636.73,53.6 L636.73,54.1 L636.73,54.6 L636.73,55.1 L636.73,55.6 L636.73,56.1 L636.73,56.6 L636.73,57.1 L636.73,57.6 L636.73,58.1 L636.73,58.6 L636.73,59.1 L636.73,59.6 L636.73,60.1 L636.73,60.6 L636.73,61.1 L636.73,61.6 L636.73,62.1 L636.73,62.6 L636.73,63.1 L636.73,63.6 L636.73,64.1 L636.73,64.6 L636.73,65.1 L636.73,65.6 L636.73,66.1 L636.73,66.6 L636.73,67.1 L636.73,67.6 L636.73,68.1 L636.73,68.6 L636.73,69.1 L636.73,69.6 L636.73,70.1 L636.73,70.6 L636.73,71.1 L636.73,71.6 L636.73,72.1 L636.73,72.6 L636.73,73.1 L636.73,73.6 L636.73,74.1 L636.73,74.6 L636.73,75.1 L636.73,75.6 L636.72,76.1 L636.72,76.6 L636.72,77.1 L636.72,77.6 L636.72,78.1 L636.72,78.6 L636.72,79.1 L636.72,79.6 L636.72,80.1 L636.72,80.6 L636.72,81.1 L636.71,81.6 L636.71,82.1 L636.7,82.6 L636.69,83.1 L636.68,83.6 L636.67,84.1 L636.66,84.6 L636.64,85.1 L636.63,85.6 L636.61,86.1 L636.59,86.6 L636.57,87.1 L636.55,87.6 L636.53,88.1 L636.51,88.6 L636.48,89.1 L636.46,89.6 L636.43,90.1 L636.4,90.6 L636.38,91.1 L636.35,91.6 L636.32,92.1 L636.28,92.6 L636.25,93.1 L636.22,93.6 L636.18,94.1 L636.15,94.6 L636.1,95.1 L636.05,95.6 L636,96.1 L635.93,96.6 L635.86,97.1 L635.77,97.6 L635.69,98.1 L635.6,98.6 L635.5,99.1 L635.4,99.6 L635.29,100.1 L635.19,100.6 L635.07,101.1 L634.95,101.6 L634.82,102.1 L634.69,102.6 L634.56,103.1 L634.42,103.6 L634.28,104.1 L634.14,104.6 L634,105.1 L633.86,105.6 L633.73,106.1 L633.59,106.6 L633.45,107.1 L633.3,107.6 L633.15,108.1 L632.99,108.6 L632.82,109.1 L632.64,109.6 L632.44,110.1 L632.23,110.6 L631.99,111.1 L631.74,111.6 L631.47,112.1 L631.19,112.6 L630.9,113.1 L630.62,113.6 L630.33,114.1 L630.04,114.6 L629.76,115.1 L629.47,115.6 L629.17,116.1 L628.88,116.6 L628.59,117.1 L628.31,117.6 L628.05,118.1 L627.82,118.6 L627.63,119.1 L627.49,119.6 L627.38,120.1 L627.3,120.6 L627.24,121.1 L627.2,121.6 L627.17,122.1 L627.16,122.6 L627.17,123.1 L627.2,123.6 L627.26,124.1 L627.34,124.6 L627.44,125.1 L627.55,125.6 L627.69,126.1 L627.85,126.6 L628.03,127.1 L628.23,127.6 L628.47,128.1 L628.73,128.6 L629,129.1 L629.28,129.6 L629.56,130.1 L629.82,130.6 L630.09,131.1 L630.34,131.6 L630.6,132.1 L630.85,132.6 L631.1,133.1 L631.35,133.6 L631.59,134.1 L631.83,134.6 L632.08,135.1 L632.32,135.6 L632.56,136.1 L632.8,136.6 L633.04,137.1 L633.27,137.6 L633.49,138.1 L633.7,138.6 L633.89,139.1 L634.06,139.6 L634.22,140.1 L634.36,140.6 L634.48,141.1 L634.6,141.6 L634.7,142.1 L634.8,142.6 L634.9,143.1 L634.99,143.6 L635.07,144.1 L635.16,144.6 L635.24,145.1 L635.32,145.6 L635.4,146.1 L635.48,146.6 L635.56,147.1 L635.63,147.6 L635.7,148.1 L635.76,148.6 L635.82,149.1 L635.88,149.6 L635.93,150.1 L635.97,150.6 L636.02,151.1 L636.06,151.6 L636.1,152.1 L636.13,152.6 L636.17,153.1 L636.2,153.6 L636.24,154.1 L636.27,154.6 L636.3,155.1 L636.33,155.6 L636.36,156.1 L636.38,156.6 L636.41,157.1 L636.43,157.6 L636.45,158.1 L636.47,158.6 L636.49,159.1 L636.51,159.6 L636.53,160.1 L636.54,160.6 L636.56,161.1 L636.57,161.6 L636.59,162.1 L636.6,162.6 L636.61,163.1 L636.63,163.6 L636.64,164.1 L636.65,164.6 L636.66,165.1 L636.67,165.6 L636.68,166.1 L636.69,166.6 L636.7,167.1 L636.71,167.6 L636.71,168.1 L636.72,168.6 L636.72,169.1 L636.72,169.6 L636.72,170.1 L636.72,170.6 L636.72,171.1 L636.72,171.6 L636.72,172.1 L636.72,172.6 L636.72,173.1 L636.72,173.6 L636.73,174.1 L636.73,174.6 L636.73,175.1 L636.73,175.6 L636.73,176.1 L636.73,176.6 L636.73,177.1 L636.73,177.6 L636.73,178.1 L636.73,178.6 L636.73,179.1 L636.73,179.6 L636.73,180.1 L636.73,180.6 L636.73,181.1 L636.73,181.6 L636.73,182.1 L636.73,182.6 L636.73,183.1 L636.73,183.6 L636.73,184.1 L636.73,184.6 L636.73,185.1 L636.73,185.6 L636.73,186.1 L636.73,186.6 L636.73,187.1 L636.73,187.6 L636.73,188.1 L636.73,188.6 L636.73,189.1 L636.73,189.6 L636.73,190.1 L636.73,190.6 L636.73,191.1 L636.73,191.6 L636.73,192.1 L636.73,192.6 L636.73,193.1 L636.73,193.6 L636.73,194.1 L636.73,194.6 L636.74,195.1 L636.75,195.6 L636.77,196.1 L636.8,196.6 L636.83,197.1 L636.87,197.6 L636.9,198.1 L636.94,198.6 L636.98,199.1 L637.01,199.6 L637.03,199.8 L637.2,199.8Z" fill="#3274a1" stroke="#3d3d3d" stroke-width="1.45" stroke-linejoin="round"/><path d="M637.2,26.6 L637.38,26.6 L637.41,27.1 L637.44,27.6 L637.48,28.1 L637.52,28.6 L637.55,29.1 L637.59,29.6 L637.62,30.1 L637.64,30.6 L637.65,31.1 L637.67,31.6 L637.67,32.1 L637.67,32.6 L637.67,33.1 L637.67,33.6 L637.67,34.1 L637.67,34.6 L637.67,35.1 L637.68,35.6 L637.68,36.1 L637.68,36.6 L637.68,37.1 L637.68,37.6 L637.68,38.1 L637.68,38.6 L637.68,39.1 L637.68,39.6 L637.68,40.1 L637.68,40.6 L637.68,41.1 L637.68,41.6 L637.68,42.1 L637.68,42.6 L637.68,43.1 L637.68,43.6 L637.68,44.1 L637.68,44.6 L637.68,45.1 L637.68,45.6 L637.68,46.1 L637.68,46.6 L637.68,47.1 L637.68,47.6 L637.68,48.1 L637.68,48.6 L637.68,49.1 L637.68,49.6 L637.68,50.1 L637.68,50.6 L637.68,51.1 L637.68,51.6 L637.68,52.1 L637.68,52.6 L637.68,53.1 L637.68,53.6 L637.68,54.1 L637.68,54.6 L637.68,55.1 L637.68,55.6 L637.68,56.1 L637.68,56.6 L637.68,57.1 L637.68,57.6 L637.68,58.1 L637.68,58.6 L637.68,59.1 L637.68,59.6 L637.68,60.1 L637.68,60.6 L637.68,61.1 L637.68,61.6 L637.68,62.1 L637.68,62.6 L637.68,63.1 L637.68,63.6 L637.68,64.1 L637.68,64.6 L637.68,65.1 L637.68,65.6 L637.68,66.1 L637.68,66.6 L637.68,67.1 L637.68,67.6 L637.68,68.1 L637.68,68.6 L637.68,69.1 L637.68,69.6 L637.68,70.1 L637.68,70.6 L637.68,71.1 L637.68,71.6 L637.68,72.1 L637.68,72.6 L637.68,73.1 L637.68,73.6 L637.68,74.1 L637.68,74.6 L637.68,75.1 L637.68,75.6 L637.68,76.1 L637.68,76.6 L637.68,77.1 L637.68,77.6 L637.68,78.1 L637.68,78.6 L637.68,79.1 L637.68,79.6 L637.68,80.1 L637.68,80.6 L637.68,81.1 L637.69,81.6 L637.69,82.1 L637.7,82.6 L637.71,83.1 L637.72,83.6 L637.73,84.1 L637.74,84.6 L637.76,85.1 L637.77,85.6 L637.79,86.1 L637.81,86.6 L637.83,87.1 L637.85,87.6 L637.87,88.1 L637.89,88.6 L637.92,89.1 L637.94,89.6 L637.97,90.1 L638,90.6 L638.02,91.1 L638.05,91.6 L638.08,92.1 L638.12,92.6 L638.15,93.1 L638.18,93.6 L638.22,94.1 L638.25,94.6 L638.29,95.1 L638.34,95.6 L638.4,96.1 L638.46,96.6 L638.53,97.1 L638.61,97.6 L638.69,98.1 L638.79,98.6 L638.89,99.1 L639.01,99.6 L639.13,100.1 L639.27,100.6 L639.43,101.1 L639.61,101.6 L639.81,102.1 L640.02,102.6 L640.25,103.1 L640.48,103.6 L640.73,104.1 L640.98,104.6 L641.24,105.1 L641.51,105.6 L641.79,106.1 L642.08,106.6 L642.38,107.1 L642.71,107.6 L643.05,108.1 L643.41,108.6 L643.8,109.1 L644.22,109.6 L644.69,110.1 L645.2,110.6 L645.77,111.1 L646.39,111.6 L647.05,112.1 L647.73,112.6 L648.4,113.1 L649.06,113.6 L649.68,114.1 L650.26,114.6 L650.79,115.1 L651.29,115.6 L651.76,116.1 L652.2,116.6 L652.62,117.1 L653.01,117.6 L653.37,118.1 L653.7,118.6 L653.99,119.1 L654.24,119.6 L654.45,120.1 L654.64,120.6 L654.79,121.1 L654.92,121.6 L655.01,122.1 L655.06,122.6 L655.07,123.1 L655.04,123.6 L654.95,124.1 L654.83,124.6 L654.67,125.1 L654.48,125.6 L654.26,126.1 L654,126.6 L653.7,127.1 L653.36,127.6 L652.96,128.1 L652.52,128.6 L652.06,129.1 L651.59,129.6 L651.12,130.1 L650.66,130.6 L650.21,131.1 L649.77,131.6 L649.33,132.1 L648.89,132.6 L648.45,133.1 L648.01,133.6 L647.57,134.1 L647.12,134.6 L646.67,135.1 L646.21,135.6 L645.75,136.1 L645.28,136.6 L644.81,137.1 L644.35,137.6 L643.9,138.1 L643.45,138.6 L643.03,139.1 L642.62,139.6 L642.22,140.1 L641.83,140.6 L641.45,141.1 L641.08,141.6 L640.73,142.1 L640.39,142.6 L640.09,143.1 L639.81,143.6 L639.57,144.1 L639.38,144.6 L639.21,145.1 L639.08,145.6 L638.98,146.1 L638.89,146.6 L638.81,147.1 L638.74,147.6 L638.67,148.1 L638.62,148.6 L638.56,149.1 L638.52,149.6 L638.47,150.1 L638.43,150.6 L638.38,151.1 L638.34,151.6 L638.3,152.1 L638.27,152.6 L638.23,153.1 L638.2,153.6 L638.16,154.1 L638.13,154.6 L638.1,155.1 L638.07,155.6 L638.04,156.1 L638.02,156.6 L637.99,157.1 L637.97,157.6 L637.95,158.1 L637.93,158.6 L637.91,159.1 L637.89,159.6 L637.87,160.1 L637.86,160.6 L637.84,161.1 L637.83,161.6 L637.81,162.1 L637.8,162.6 L637.79,163.1 L637.77,163.6 L637.76,164.1 L637.75,164.6 L637.74,165.1 L637.73,165.6 L637.72,166.1 L637.71,166.6 L637.7,167.1 L637.69,167.6 L637.69,168.1 L637.68,168.6 L637.68,169.1 L637.68,169.6 L637.68,170.1 L637.68,170.6 L637.68,171.1 L637.68,171.6 L637.68,172.1 L637.68,172.6 L637.68,173.1 L637.68,173.6 L637.68,174.1 L637.68,174.6 L637.68,175.1 L637.68,175.6 L637.68,176.1 L637.68,176.6 L637.68,177.1 L637.68,177.6 L637.68,178.1 L637.68,178.6 L637.68,179.1 L637.68,179.6 L637.68,180.1 L637.68,180.6 L637.68,181.1 L637.68,181.6 L637.68,182.1 L637.68,182.6 L637.68,183.1 L637.68,183.6 L637.68,184.1 L637.68,184.6 L637.68,185.1 L637.68,185.6 L637.68,186.1 L637.68,186.6 L637.68,187.1 L637.68,187.6 L637.68,188.1 L637.68,188.6 L637.68,189.1 L637.68,189.6 L637.68,190.1 L637.68,190.6 L637.67,191.1 L637.67,191.6 L637.67,192.1 L637.67,192.6 L637.67,193.1 L637.67,193.6 L637.67,194.1 L637.67,194.6 L637.66,195.1 L637.65,195.6 L637.63,196.1 L637.6,196.6 L637.57,197.1 L637.53,197.6 L637.5,198.1 L637.46,198.6 L637.42,199.1 L637.39,199.6 L637.37,199.8 L637.2,199.8Z" fill="#e1812c" stroke="#3d3d3d" stroke-width="1.45" stroke-linejoin="round"/><line x1="637.20" y1="115.50" x2="629.91" y2="115.50" stroke="#333" stroke-width="1.3" stroke-dasharray="1.2 0.95"/><line x1="637.20" y1="122.80" x2="627.49" y2="122.80" stroke="#333" stroke-width="1.3" stroke-dasharray="2.6 2.0"/><line x1="637.20" y1="130.70" x2="630.25" y2="130.70" stroke="#333" stroke-width="1.3" stroke-dasharray="1.2 0.95"/><line x1="637.20" y1="115.50" x2="650.88" y2="115.50" stroke="#333" stroke-width="1.3" stroke-dasharray="1.2 0.95"/><line x1="637.20" y1="122.80" x2="654.81" y2="122.80" stroke="#333" stroke-width="1.3" stroke-dasharray="2.6 2.0"/><line x1="637.20" y1="130.70" x2="650.19" y2="130.70" stroke="#333" stroke-width="1.3" stroke-dasharray="1.2 0.95"/><line x1="631.5" y1="123.4" x2="641.9" y2="122.8" stroke="#00f000" stroke-width="1.8" stroke-opacity="0.72"/><rect x="617.8" y="8.3" width="58.6" height="39.9" rx="2.5" fill="#ffffff" fill-opacity="0.8" stroke="#d9d9d9" stroke-width="1"/><rect x="621.4" y="14.4" width="25" height="8.9" fill="#3274a1" stroke="#3d3d3d" stroke-width="1.3"/><rect x="621.4" y="32.4" width="25" height="8.9" fill="#e1812c" stroke="#3d3d3d" stroke-width="1.3"/><text transform="translate(31.39,238.80) scale(1.0630,1.0056)">1.00</text><text transform="translate(21.48,239.50) scale(1.1167,1.0000)">−</text><text transform="translate(31.39,211.56) scale(1.0630,1.0056)">0.75</text><text transform="translate(21.48,212.26) scale(1.1167,1.0000)">−</text><text transform="translate(31.39,184.33) scale(1.0630,1.0056)">0.50</text><text transform="translate(21.48,185.03) scale(1.1167,1.0000)">−</text><text transform="translate(31.39,157.09) scale(1.0630,1.0056)">0.25</text><text transform="translate(21.48,157.79) scale(1.1167,1.0000)">−</text><text transform="translate(31.39,129.85) scale(1.0630,1.0056)">0.00</text><text transform="translate(31.39,102.61) scale(1.0630,1.0056)">0.25</text><text transform="translate(31.39,75.37) scale(1.0630,1.0056)">0.50</text><text transform="translate(31.39,48.14) scale(1.0630,1.0056)">0.75</text><text transform="translate(31.39,20.90) scale(1.0630,1.0056)">1.00</text><text transform="translate(13.40,153.07) rotate(-90) scale(1.0655,1.0000)">coherence</text><text transform="translate(353.40,323.90) scale(1.0846,1.0667)">feature</text><text transform="translate(656.30,22.90) scale(0.9000,1.0111)">PP</text><text transform="translate(655.49,40.70) scale(0.9062,0.9889)">CP</text><text transform="translate(104.55,259.95) rotate(-30) scale(1.1577,1)" text-anchor="middle" dominant-baseline="central">artists</text><text transform="translate(158.70,264.15) rotate(-30) scale(1.0871,1)" text-anchor="middle" dominant-baseline="central">loudness</text><text transform="translate(211.90,262.00) rotate(-30) scale(1.1307,1)" text-anchor="middle" dominant-baseline="central">energy</text><text transform="translate(264.90,269.15) rotate(-30) scale(1.1422,1)" text-anchor="middle" dominant-baseline="central">danceability</text><text transform="translate(317.25,270.35) rotate(-30) scale(1.0872,1)" text-anchor="middle" dominant-baseline="central">acousticness</text><text transform="translate(370.30,262.45) rotate(-30) scale(1.0953,1)" text-anchor="middle" dominant-baseline="central">valence</text><text transform="translate(423.05,269.85) rotate(-30) scale(1.0723,1)" text-anchor="middle" dominant-baseline="central">speechiness</text><text transform="translate(476.95,276.80) rotate(-30) scale(1.0880,1)" text-anchor="middle" dominant-baseline="central">instrumentalness</text><text transform="translate(530.05,262.75) rotate(-30) scale(1.0274,1)" text-anchor="middle" dominant-baseline="central">liveness</text><text transform="translate(583.50,260.35) rotate(-30) scale(1.1462,1)" text-anchor="middle" dominant-baseline="central">tempo</text><text transform="translate(636.00,261.95) rotate(-30) scale(1.1852,1)" text-anchor="middle" dominant-baseline="central">tonality</text></svg></div></body></html>
